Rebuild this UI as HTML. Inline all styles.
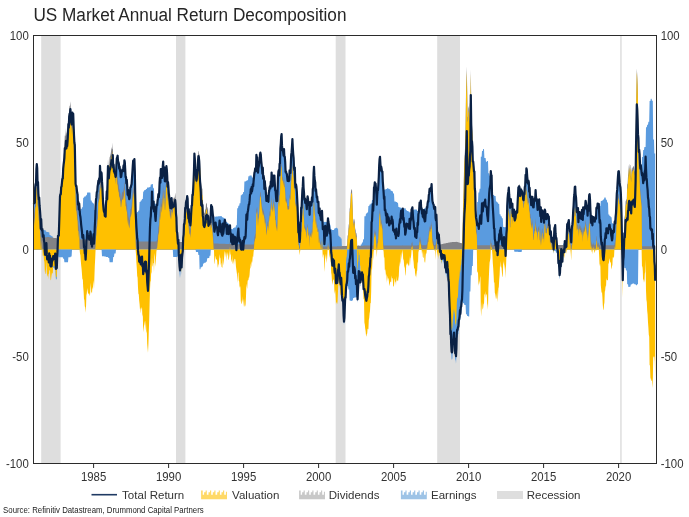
<!DOCTYPE html>
<html><head><meta charset="utf-8"><title>US Market Annual Return Decomposition</title>
<style>
html,body{margin:0;padding:0;background:#fff;}
body{width:689px;height:517px;position:relative;overflow:hidden;font-family:"Liberation Sans",Arial,sans-serif;}
text{font-family:"Liberation Sans",Arial,sans-serif;fill:#333333;}
.ax{font-size:12px;}
.ti{font-size:17.6px;fill:#262626;}
.lg{font-size:11.8px;}
.src{font-size:8.4px;fill:#222;}
</style></head><body>
<svg width="689" height="517" viewBox="0 0 689 517" style="position:absolute;left:0;top:0;will-change:transform"><rect width="689" height="517" fill="#fff"/><rect x="41.2" y="35.5" width="19.4" height="428.0" fill="#DEDEDE"/><rect x="176.0" y="35.5" width="9.4" height="428.0" fill="#DEDEDE"/><rect x="335.7" y="35.5" width="9.8" height="428.0" fill="#DEDEDE"/><rect x="437.2" y="35.5" width="22.8" height="428.0" fill="#DEDEDE"/><rect x="620.2" y="35.5" width="1.5" height="428.0" fill="#DEDEDE"/><path d="M34.0 249.5L34.0 204.3L34.4 194.6L34.8 202.6L35.2 187.3L35.6 184.0L36.0 184.3L36.4 169.3L36.8 164.0L37.2 168.0L37.6 185.2L38.0 182.0L38.4 193.6L38.8 199.5L39.2 197.5L39.6 205.7L40.0 210.4L40.4 216.1L40.8 228.5L41.2 219.2L41.6 228.1L42.0 229.9L42.4 229.0L42.8 229.9L43.2 230.1L43.6 230.1L44.0 230.1L44.4 230.3L44.8 230.3L45.2 230.3L45.6 230.3L46.0 231.8L46.4 231.8L46.8 231.8L47.2 232.0L47.6 232.0L48.0 232.0L48.4 232.2L48.8 232.3L49.2 232.3L49.6 235.0L50.0 235.1L50.4 235.1L50.8 235.8L51.2 235.8L51.6 235.9L52.0 236.5L52.4 236.6L52.8 236.6L53.2 249.5L53.6 249.5L54.0 249.5L54.4 249.5L54.8 249.5L55.2 249.5L55.6 249.5L56.0 249.5L56.4 249.5L56.8 249.5L57.2 249.5L57.6 249.5L58.0 249.5L58.4 249.5L58.8 249.5L59.2 249.5L59.6 249.5L60.0 249.5L60.4 249.5L60.8 249.5L61.2 249.5L61.6 249.5L62.0 249.5L62.4 249.5L62.8 249.5L63.2 249.5L63.6 249.5L64.0 249.5L64.4 249.5L64.8 249.5L65.2 249.5L65.6 249.5L66.0 249.5L66.4 249.5L66.8 249.5L67.2 249.5L67.6 249.5L68.0 249.5L68.4 249.5L68.8 249.5L69.2 249.5L69.6 249.5L70.0 249.5L70.4 249.5L70.8 249.5L71.2 249.5L71.6 249.5L72.0 121.0L72.4 112.5L72.8 115.1L73.2 113.8L73.6 125.3L74.0 135.3L74.4 142.8L74.8 144.8L75.2 165.4L75.6 183.9L76.0 186.1L76.4 185.8L76.8 189.4L77.2 192.8L77.6 194.5L78.0 204.7L78.4 202.2L78.8 209.5L79.2 203.5L79.6 209.3L80.0 210.9L80.4 210.9L80.8 209.1L81.2 209.1L81.6 209.1L82.0 207.2L82.4 207.3L82.8 207.3L83.2 197.7L83.6 197.7L84.0 197.8L84.4 196.4L84.8 196.4L85.2 196.4L85.6 196.5L86.0 195.2L86.4 195.3L86.8 195.3L87.2 192.5L87.6 192.5L88.0 192.6L88.4 192.6L88.8 192.6L89.2 192.6L89.6 192.6L90.0 192.6L90.4 192.7L90.8 200.5L91.2 200.5L91.6 200.5L92.0 202.5L92.4 202.5L92.8 202.6L93.2 203.4L93.6 203.5L94.0 203.5L94.4 209.9L94.8 210.0L95.2 210.0L95.6 206.4L96.0 199.7L96.4 197.4L96.8 192.0L97.2 192.0L97.6 186.5L98.0 184.1L98.4 180.6L98.8 183.6L99.2 178.4L99.6 182.0L100.0 165.9L100.4 173.6L100.8 173.1L101.2 172.2L101.6 173.2L102.0 249.5L102.4 249.5L102.8 249.5L103.2 249.5L103.6 249.5L104.0 249.5L104.4 249.5L104.8 249.5L105.2 249.5L105.6 249.5L106.0 249.5L106.4 249.5L106.8 249.5L107.2 249.5L107.6 249.5L108.0 249.5L108.4 249.5L108.8 249.5L109.2 249.5L109.6 249.5L110.0 249.5L110.4 249.5L110.8 249.5L111.2 249.5L111.6 249.5L112.0 249.5L112.4 249.5L112.8 249.5L113.2 249.5L113.6 249.5L114.0 249.5L114.4 249.5L114.8 249.5L115.2 249.5L115.6 249.5L116.0 175.2L116.4 165.5L116.8 158.5L117.2 157.5L117.6 155.7L118.0 161.0L118.4 162.1L118.8 163.3L119.2 168.7L119.6 166.6L120.0 170.7L120.4 172.0L120.8 177.1L121.2 177.0L121.6 173.5L122.0 170.7L122.4 169.3L122.8 170.2L123.2 168.5L123.6 165.3L124.0 171.2L124.4 160.3L124.8 162.0L125.2 169.4L125.6 177.3L126.0 177.0L126.4 183.5L126.8 179.8L127.2 186.1L127.6 194.8L128.0 189.8L128.4 195.1L128.8 196.6L129.2 199.2L129.6 197.7L130.0 192.6L130.4 187.6L130.8 187.2L131.2 185.5L131.6 184.1L132.0 178.1L132.4 172.4L132.8 165.9L133.2 160.6L133.6 167.6L134.0 161.4L134.4 159.1L134.8 170.5L135.2 193.6L135.6 210.7L136.0 213.8L136.4 213.7L136.8 213.7L137.2 212.1L137.6 212.1L138.0 212.1L138.4 210.4L138.8 210.4L139.2 210.4L139.6 201.9L140.0 201.9L140.4 201.9L140.8 200.5L141.2 200.5L141.6 200.5L142.0 199.1L142.4 199.1L142.8 199.1L143.2 191.5L143.6 191.5L144.0 191.5L144.4 190.1L144.8 190.1L145.2 190.1L145.6 190.1L146.0 189.1L146.4 189.1L146.8 189.1L147.2 187.6L147.6 187.6L148.0 187.6L148.4 187.6L148.8 187.6L149.2 187.6L149.6 186.9L150.0 186.9L150.4 187.0L150.8 184.4L151.2 184.4L151.6 184.4L152.0 184.0L152.4 184.0L152.8 184.0L153.2 188.3L153.6 188.3L154.0 188.3L154.4 203.6L154.8 203.6L155.2 203.6L155.6 203.6L156.0 205.8L156.4 205.8L156.8 204.6L157.2 205.2L157.6 200.5L158.0 198.2L158.4 194.1L158.8 197.2L159.2 192.6L159.6 182.5L160.0 177.7L160.4 182.7L160.8 169.0L161.2 169.2L161.6 175.4L162.0 178.0L162.4 172.9L162.8 166.2L163.2 161.6L163.6 175.7L164.0 167.1L164.4 170.0L164.8 181.1L165.2 181.4L165.6 172.3L166.0 168.7L166.4 166.1L166.8 169.3L167.2 175.9L167.6 186.8L168.0 182.2L168.4 186.7L168.8 193.3L169.2 196.6L169.6 200.2L170.0 205.1L170.4 208.0L170.8 202.9L171.2 208.4L171.6 198.0L172.0 204.5L172.4 202.3L172.8 207.3L173.2 249.5L173.6 249.5L174.0 249.5L174.4 249.5L174.8 249.5L175.2 249.5L175.6 249.5L176.0 249.5L176.4 249.5L176.8 249.5L177.2 249.5L177.6 249.5L178.0 249.5L178.4 249.5L178.8 249.5L179.2 249.5L179.6 249.5L180.0 249.5L180.4 249.5L180.8 249.5L181.2 249.5L181.6 249.5L182.0 249.5L182.4 249.5L182.8 249.5L183.2 237.8L183.6 234.6L184.0 224.0L184.4 223.9L184.8 218.9L185.2 207.9L185.6 208.7L186.0 202.4L186.4 200.6L186.8 199.9L187.2 196.1L187.6 198.6L188.0 211.9L188.4 218.4L188.8 209.2L189.2 220.9L189.6 222.5L190.0 219.9L190.4 225.5L190.8 221.0L191.2 212.0L191.6 205.8L192.0 205.3L192.4 194.9L192.8 195.2L193.2 188.8L193.6 180.3L194.0 170.1L194.4 153.5L194.8 158.5L195.2 168.8L195.6 169.7L196.0 249.5L196.4 249.5L196.8 249.5L197.2 249.5L197.6 249.5L198.0 249.5L198.4 249.5L198.8 249.5L199.2 249.5L199.6 249.5L200.0 249.5L200.4 249.5L200.8 249.5L201.2 249.5L201.6 249.5L202.0 249.5L202.4 249.5L202.8 249.5L203.2 249.5L203.6 249.5L204.0 249.5L204.4 249.5L204.8 249.5L205.2 249.5L205.6 249.5L206.0 249.5L206.4 249.5L206.8 249.5L207.2 249.5L207.6 249.5L208.0 249.5L208.4 249.5L208.8 249.5L209.2 249.5L209.6 249.5L210.0 249.5L210.4 249.5L210.8 212.9L211.2 205.1L211.6 208.4L212.0 206.5L212.4 210.2L212.8 214.3L213.2 217.5L213.6 224.0L214.0 225.0L214.4 216.6L214.8 216.6L215.2 216.7L215.6 216.7L216.0 216.6L216.4 216.6L216.8 216.6L217.2 216.6L217.6 216.6L218.0 216.6L218.4 216.2L218.8 216.2L219.2 216.2L219.6 216.2L220.0 216.2L220.4 216.2L220.8 216.1L221.2 216.1L221.6 216.1L222.0 217.2L222.4 217.2L222.8 217.3L223.2 217.8L223.6 217.8L224.0 217.8L224.4 218.4L224.8 218.4L225.2 218.4L225.6 218.4L226.0 222.1L226.4 222.1L226.8 222.1L227.2 222.8L227.6 222.8L228.0 222.8L228.4 223.7L228.8 223.7L229.2 223.7L229.6 228.2L230.0 225.3L230.4 228.3L230.8 229.0L231.2 229.0L231.6 229.0L232.0 229.3L232.4 229.3L232.8 229.3L233.2 228.0L233.6 228.0L234.0 228.0L234.4 227.6L234.8 227.6L235.2 227.6L235.6 227.6L236.0 225.3L236.4 225.3L236.8 225.3L237.2 208.2L237.6 208.3L238.0 208.3L238.4 205.7L238.8 205.8L239.2 205.8L239.6 203.2L240.0 203.3L240.4 203.3L240.8 195.3L241.2 195.3L241.6 195.3L242.0 194.3L242.4 194.3L242.8 194.3L243.2 192.1L243.6 192.1L244.0 192.1L244.4 181.5L244.8 181.5L245.2 181.5L245.6 181.5L246.0 180.7L246.4 180.7L246.8 180.7L247.2 180.3L247.6 180.3L248.0 180.3L248.4 176.3L248.8 176.3L249.2 176.4L249.6 175.5L250.0 175.5L250.4 175.5L250.8 175.4L251.2 175.4L251.6 175.4L252.0 177.5L252.4 177.5L252.8 177.5L253.2 178.5L253.6 178.6L254.0 176.9L254.4 172.8L254.8 171.6L255.2 168.4L255.6 170.4L256.0 171.0L256.4 154.8L256.8 157.9L257.2 157.3L257.6 165.7L258.0 172.6L258.4 167.9L258.8 166.3L259.2 162.1L259.6 162.5L260.0 154.5L260.4 152.6L260.8 154.7L261.2 160.5L261.6 164.3L262.0 168.4L262.4 173.6L262.8 167.7L263.2 178.7L263.6 175.9L264.0 178.4L264.4 189.0L264.8 181.1L265.2 186.5L265.6 188.0L266.0 194.2L266.4 201.0L266.8 198.6L267.2 199.1L267.6 196.2L268.0 195.7L268.4 201.8L268.8 192.9L269.2 191.1L269.6 187.5L270.0 186.2L270.4 188.5L270.8 181.5L271.2 184.3L271.6 172.6L272.0 183.2L272.4 186.5L272.8 182.5L273.2 175.7L273.6 179.2L274.0 185.3L274.4 175.5L274.8 183.2L275.2 190.4L275.6 190.5L276.0 196.8L276.4 201.2L276.8 195.3L277.2 200.9L277.6 190.9L278.0 177.1L278.4 171.6L278.8 170.1L279.2 175.4L279.6 163.9L280.0 163.2L280.4 148.4L280.8 143.8L281.2 136.5L281.6 134.2L282.0 145.4L282.4 150.5L282.8 149.1L283.2 152.6L283.6 155.5L284.0 149.0L284.4 156.6L284.8 156.8L285.2 162.2L285.6 171.9L286.0 171.3L286.4 173.2L286.8 173.8L287.2 177.2L287.6 180.9L288.0 180.3L288.4 180.8L288.8 181.1L289.2 180.1L289.6 170.4L290.0 171.8L290.4 173.0L290.8 164.4L291.2 155.0L291.6 152.2L292.0 146.4L292.4 139.0L292.8 147.6L293.2 154.0L293.6 157.9L294.0 167.5L294.4 170.3L294.8 167.6L295.2 183.6L295.6 187.4L296.0 184.4L296.4 186.8L296.8 191.3L297.2 199.0L297.6 206.8L298.0 219.8L298.4 232.4L298.8 232.4L299.2 235.7L299.6 236.3L300.0 236.3L300.4 222.3L300.8 221.5L301.2 207.5L301.6 207.9L302.0 198.4L302.4 190.0L302.8 186.4L303.2 177.4L303.6 188.1L304.0 192.7L304.4 199.8L304.8 198.4L305.2 203.0L305.6 200.3L306.0 199.9L306.4 204.7L306.8 209.1L307.2 200.8L307.6 196.4L308.0 198.8L308.4 204.8L308.8 203.5L309.2 202.4L309.6 214.8L310.0 202.0L310.4 204.1L310.8 204.4L311.2 205.5L311.6 202.2L312.0 197.4L312.4 201.6L312.8 189.1L313.2 187.1L313.6 173.2L314.0 166.8L314.4 175.9L314.8 180.6L315.2 182.2L315.6 190.9L316.0 189.2L316.4 193.6L316.8 197.6L317.2 196.5L317.6 202.1L318.0 201.6L318.4 201.9L318.8 212.9L319.2 213.5L319.6 208.3L320.0 215.7L320.4 214.2L320.8 219.1L321.2 220.2L321.6 217.8L322.0 210.8L322.4 219.5L322.8 220.5L323.2 221.8L323.6 221.8L324.0 221.8L324.4 221.9L324.8 221.9L325.2 221.9L325.6 221.8L326.0 221.9L326.4 221.9L326.8 221.9L327.2 223.2L327.6 223.2L328.0 218.3L328.4 222.1L328.8 223.8L329.2 223.8L329.6 224.8L330.0 224.8L330.4 224.8L330.8 229.3L331.2 229.3L331.6 229.3L332.0 230.0L332.4 229.9L332.8 229.9L333.2 230.1L333.6 230.1L334.0 230.1L334.4 228.4L334.8 228.4L335.2 228.3L335.6 228.3L336.0 227.8L336.4 227.8L336.8 227.8L337.2 228.6L337.6 228.6L338.0 228.5L338.4 235.8L338.8 235.8L339.2 235.7L339.6 237.1L340.0 237.1L340.4 237.0L340.8 238.4L341.2 238.4L341.6 238.4L342.0 249.5L342.4 249.5L342.8 249.5L343.2 249.5L343.6 249.5L344.0 249.5L344.4 249.5L344.8 249.5L345.2 249.5L345.6 249.5L346.0 249.5L346.4 249.5L346.8 249.5L347.2 249.5L347.6 249.5L348.0 249.5L348.4 249.5L348.8 249.5L349.2 249.5L349.6 249.5L350.0 249.5L350.4 249.5L350.8 249.5L351.2 249.5L351.6 249.5L352.0 249.5L352.4 249.5L352.8 249.5L353.2 249.5L353.6 249.5L354.0 249.5L354.4 249.5L354.8 249.5L355.2 249.5L355.6 249.5L356.0 249.5L356.4 249.5L356.8 249.5L357.2 249.5L357.6 249.5L358.0 249.5L358.4 249.5L358.8 249.5L359.2 249.5L359.6 249.5L360.0 249.5L360.4 249.5L360.8 244.4L361.2 244.4L361.6 244.4L362.0 242.4L362.4 242.4L362.8 242.4L363.2 239.3L363.6 239.3L364.0 239.3L364.4 216.2L364.8 216.2L365.2 216.2L365.6 216.2L366.0 213.6L366.4 213.6L366.8 213.6L367.2 212.5L367.6 212.5L368.0 212.5L368.4 205.9L368.8 205.9L369.2 205.9L369.6 204.6L370.0 204.6L370.4 204.6L370.8 203.5L371.2 203.5L371.6 203.5L372.0 200.0L372.4 200.0L372.8 200.0L373.2 199.6L373.6 199.6L374.0 187.6L374.4 186.8L374.8 182.3L375.2 186.5L375.6 183.5L376.0 188.9L376.4 194.3L376.8 196.9L377.2 195.2L377.6 190.1L378.0 190.1L378.4 184.0L378.8 176.9L379.2 165.4L379.6 158.9L380.0 156.8L380.4 163.6L380.8 170.5L381.2 166.6L381.6 168.8L382.0 171.8L382.4 171.6L382.8 181.5L383.2 186.8L383.6 190.1L384.0 190.1L384.4 189.6L384.8 189.6L385.2 189.6L385.6 189.6L386.0 189.1L386.4 189.1L386.8 189.1L387.2 188.3L387.6 188.3L388.0 188.3L388.4 188.8L388.8 188.8L389.2 188.8L389.6 189.2L390.0 189.2L390.4 189.2L390.8 190.8L391.2 190.8L391.6 190.8L392.0 191.2L392.4 191.2L392.8 191.2L393.2 193.6L393.6 193.6L394.0 193.6L394.4 201.4L394.8 201.4L395.2 201.4L395.6 201.4L396.0 202.0L396.4 202.0L396.8 202.0L397.2 202.8L397.6 202.8L398.0 202.8L398.4 206.9L398.8 206.9L399.2 206.9L399.6 207.5L400.0 207.5L400.4 207.5L400.8 207.8L401.2 207.8L401.6 207.8L402.0 208.8L402.4 208.8L402.8 208.6L403.2 208.7L403.6 208.7L404.0 208.7L404.4 208.3L404.8 208.3L405.2 208.3L405.6 208.3L406.0 210.2L406.4 210.2L406.8 210.2L407.2 211.0L407.6 211.0L408.0 211.0L408.4 211.5L408.8 211.5L409.2 211.5L409.6 212.4L410.0 212.4L410.4 212.4L410.8 212.0L411.2 212.0L411.6 209.2L412.0 209.0L412.4 207.3L412.8 211.5L413.2 209.8L413.6 209.8L414.0 209.7L414.4 209.5L414.8 209.5L415.2 209.5L415.6 209.5L416.0 209.4L416.4 209.4L416.8 209.4L417.2 211.0L417.6 211.0L418.0 211.0L418.4 211.4L418.8 211.4L419.2 209.3L419.6 202.5L420.0 204.5L420.4 207.1L420.8 200.6L421.2 209.0L421.6 208.2L422.0 209.3L422.4 209.3L422.8 209.3L423.2 209.1L423.6 209.1L424.0 209.1L424.4 208.2L424.8 208.2L425.2 208.2L425.6 208.2L426.0 208.3L426.4 208.3L426.8 207.1L427.2 207.8L427.6 203.4L428.0 201.2L428.4 201.4L428.8 195.2L429.2 193.2L429.6 188.9L430.0 191.0L430.4 190.5L430.8 187.8L431.2 188.3L431.6 184.2L432.0 193.8L432.4 200.6L432.8 202.6L433.2 204.0L433.6 204.6L434.0 207.9L434.4 207.5L434.8 207.5L435.2 206.9L435.6 207.4L436.0 220.2L436.4 214.7L436.8 224.7L437.2 230.5L437.6 230.5L438.0 230.5L438.4 233.6L438.8 233.6L439.2 233.5L439.6 249.5L440.0 249.5L440.4 249.5L440.8 249.5L441.2 249.5L441.6 249.5L442.0 249.5L442.4 249.5L442.8 249.5L443.2 249.5L443.6 249.5L444.0 249.5L444.4 249.5L444.8 249.5L445.2 249.5L445.6 249.5L446.0 249.5L446.4 249.5L446.8 249.5L447.2 249.5L447.6 249.5L448.0 249.5L448.4 249.5L448.8 249.5L449.2 249.5L449.6 249.5L450.0 249.5L450.4 249.5L450.8 249.5L451.2 249.5L451.6 249.5L452.0 249.5L452.4 249.5L452.8 249.5L453.2 249.5L453.6 249.5L454.0 249.5L454.4 249.5L454.8 249.5L455.2 249.5L455.6 249.5L456.0 249.5L456.4 249.5L456.8 249.5L457.2 249.5L457.6 249.5L458.0 249.5L458.4 249.5L458.8 249.5L459.2 249.5L459.6 249.5L460.0 249.5L460.4 249.5L460.8 249.5L461.2 249.5L461.6 249.5L462.0 249.5L462.4 249.5L462.8 249.5L463.2 249.5L463.6 249.5L464.0 249.5L464.4 249.5L464.8 249.5L465.2 249.5L465.6 249.5L466.0 249.5L466.4 249.5L466.8 249.5L467.2 249.5L467.6 249.5L468.0 249.5L468.4 249.5L468.8 249.5L469.2 249.5L469.6 249.5L470.0 249.5L470.4 249.5L470.8 249.5L471.2 249.5L471.6 249.5L472.0 249.5L472.4 249.5L472.8 249.5L473.2 161.7L473.6 166.3L474.0 171.7L474.4 171.6L474.8 188.5L475.2 191.6L475.6 210.3L476.0 217.4L476.4 219.3L476.8 221.4L477.2 201.9L477.6 201.9L478.0 201.9L478.4 192.4L478.8 192.4L479.2 192.4L479.6 188.8L480.0 188.8L480.4 188.8L480.8 156.7L481.2 156.7L481.6 156.7L482.0 150.9L482.4 150.9L482.8 150.9L483.2 149.0L483.6 149.0L484.0 149.0L484.4 157.9L484.8 157.9L485.2 157.9L485.6 157.9L486.0 161.8L486.4 161.8L486.8 161.8L487.2 160.9L487.6 160.9L488.0 160.9L488.4 173.3L488.8 173.3L489.2 173.3L489.6 175.8L490.0 175.8L490.4 175.8L490.8 171.2L491.2 175.5L491.6 175.3L492.0 193.5L492.4 193.5L492.8 193.5L493.2 194.9L493.6 194.9L494.0 194.9L494.4 196.0L494.8 196.0L495.2 196.0L495.6 196.0L496.0 201.4L496.4 201.4L496.8 201.4L497.2 202.4L497.6 202.4L498.0 202.4L498.4 204.0L498.8 204.0L499.2 204.0L499.6 214.3L500.0 214.3L500.4 214.3L500.8 216.3L501.2 216.3L501.6 216.3L502.0 218.3L502.4 218.3L502.8 218.3L503.2 227.0L503.6 227.0L504.0 227.0L504.4 227.2L504.8 227.2L505.2 227.2L505.6 227.2L506.0 227.1L506.4 227.1L506.8 227.1L507.2 206.0L507.6 198.3L508.0 193.9L508.4 191.4L508.8 187.5L509.2 194.7L509.6 199.5L510.0 207.8L510.4 207.2L510.8 199.2L511.2 204.2L511.6 204.1L512.0 205.5L512.4 203.7L512.8 216.2L513.2 210.7L513.6 210.2L514.0 209.7L514.4 249.5L514.8 249.5L515.2 249.5L515.6 249.5L516.0 249.5L516.4 249.5L516.8 249.5L517.2 249.5L517.6 249.5L518.0 249.5L518.4 249.5L518.8 249.5L519.2 249.5L519.6 249.5L520.0 249.5L520.4 249.5L520.8 249.5L521.2 249.5L521.6 249.5L522.0 191.1L522.4 193.6L522.8 194.2L523.2 199.4L523.6 200.1L524.0 193.3L524.4 194.3L524.8 187.0L525.2 185.8L525.6 174.8L526.0 182.5L526.4 168.3L526.8 169.8L527.2 176.6L527.6 180.6L528.0 183.6L528.4 180.6L528.8 182.0L529.2 191.7L529.6 187.8L530.0 197.3L530.4 196.0L530.8 199.4L531.2 205.2L531.6 200.3L532.0 203.9L532.4 196.9L532.8 202.9L533.2 207.4L533.6 207.3L534.0 201.7L534.4 201.0L534.8 198.4L535.2 198.9L535.6 190.1L536.0 196.7L536.4 201.0L536.8 199.1L537.2 204.3L537.6 210.0L538.0 201.3L538.4 201.8L538.8 200.3L539.2 199.3L539.6 209.3L540.0 210.7L540.4 216.1L540.8 207.3L541.2 222.0L541.6 214.6L542.0 211.5L542.4 210.5L542.8 217.1L543.2 218.3L543.6 215.3L544.0 222.7L544.4 214.9L544.8 209.5L545.2 210.8L545.6 218.2L546.0 218.7L546.4 219.2L546.8 218.6L547.2 214.0L547.6 214.2L548.0 215.0L548.4 217.1L548.8 216.6L549.2 225.4L549.6 225.0L550.0 234.3L550.4 234.7L550.8 231.3L551.2 236.9L551.6 241.5L552.0 249.5L552.4 249.5L552.8 249.5L553.2 249.5L553.6 249.5L554.0 249.5L554.4 249.5L554.8 249.5L555.2 249.5L555.6 249.5L556.0 249.5L556.4 249.5L556.8 249.5L557.2 249.5L557.6 249.5L558.0 249.5L558.4 249.5L558.8 249.5L559.2 249.5L559.6 249.5L560.0 249.5L560.4 249.5L560.8 249.5L561.2 249.5L561.6 249.5L562.0 249.5L562.4 249.5L562.8 249.5L563.2 243.5L563.6 243.5L564.0 243.5L564.4 243.0L564.8 241.1L565.2 243.0L565.6 243.0L566.0 241.4L566.4 242.4L566.8 234.7L567.2 224.2L567.6 228.1L568.0 222.9L568.4 222.0L568.8 220.1L569.2 225.8L569.6 230.4L570.0 231.6L570.4 230.4L570.8 231.0L571.2 231.0L571.6 231.0L572.0 226.4L572.4 224.4L572.8 220.2L573.2 210.8L573.6 205.6L574.0 197.4L574.4 194.2L574.8 187.0L575.2 186.6L575.6 194.3L576.0 197.1L576.4 204.0L576.8 212.0L577.2 211.7L577.6 212.8L578.0 208.2L578.4 222.2L578.8 214.9L579.2 214.6L579.6 212.1L580.0 218.0L580.4 213.8L580.8 213.2L581.2 218.8L581.6 215.2L582.0 209.8L582.4 212.8L582.8 219.9L583.2 207.3L583.6 214.1L584.0 208.6L584.4 209.5L584.8 207.6L585.2 206.1L585.6 200.8L586.0 202.7L586.4 206.3L586.8 208.9L587.2 209.8L587.6 215.7L588.0 205.6L588.4 211.0L588.8 201.7L589.2 195.0L589.6 194.2L590.0 199.4L590.4 210.3L590.8 216.9L591.2 220.0L591.6 215.8L592.0 219.0L592.4 220.6L592.8 219.4L593.2 217.0L593.6 220.2L594.0 217.8L594.4 218.4L594.8 218.4L595.2 218.4L595.6 216.7L596.0 216.7L596.4 208.1L596.8 207.4L597.2 207.9L597.6 203.6L598.0 207.9L598.4 204.6L598.8 203.9L599.2 206.8L599.6 205.9L600.0 205.9L600.4 205.9L600.8 201.0L601.2 201.0L601.6 201.0L602.0 200.4L602.4 200.4L602.8 200.4L603.2 199.5L603.6 199.5L604.0 199.5L604.4 197.4L604.8 197.4L605.2 197.4L605.6 197.4L606.0 199.8L606.4 199.8L606.8 199.8L607.2 202.4L607.6 202.4L608.0 202.4L608.4 214.4L608.8 214.4L609.2 214.4L609.6 216.1L610.0 216.1L610.4 216.1L610.8 217.3L611.2 217.3L611.6 217.3L612.0 223.3L612.4 223.3L612.8 223.3L613.2 224.1L613.6 224.1L614.0 224.1L614.4 224.4L614.8 221.4L615.2 223.5L615.6 216.9L616.0 213.0L616.4 203.3L616.8 193.7L617.2 189.9L617.6 182.7L618.0 176.3L618.4 171.4L618.8 171.2L619.2 176.7L619.6 182.2L620.0 185.8L620.4 187.3L620.8 192.5L621.2 202.7L621.6 218.9L622.0 232.1L622.4 232.0L622.8 232.0L623.2 249.5L623.6 249.5L624.0 249.5L624.4 249.5L624.8 249.5L625.2 249.5L625.6 249.5L626.0 249.5L626.4 249.5L626.8 249.5L627.2 249.5L627.6 249.5L628.0 249.5L628.4 249.5L628.8 249.5L629.2 249.5L629.6 249.5L630.0 249.5L630.4 249.5L630.8 249.5L631.2 249.5L631.6 249.5L632.0 249.5L632.4 249.5L632.8 249.5L633.2 249.5L633.6 249.5L634.0 249.5L634.4 249.5L634.8 249.5L635.2 249.5L635.6 249.5L636.0 249.5L636.4 249.5L636.8 249.5L637.2 249.5L637.6 249.5L638.0 249.5L638.4 137.9L638.8 152.0L639.2 149.8L639.6 154.0L640.0 163.8L640.4 168.7L640.8 165.2L641.2 168.7L641.6 172.5L642.0 157.0L642.4 157.0L642.8 157.0L643.2 149.9L643.6 149.9L644.0 149.9L644.4 147.1L644.8 147.1L645.2 147.1L645.6 147.1L646.0 127.2L646.4 127.2L646.8 127.2L647.2 124.8L647.6 124.8L648.0 124.8L648.4 121.7L648.8 121.7L649.2 121.7L649.6 100.9L650.0 100.9L650.4 100.9L650.8 98.8L651.2 98.8L651.6 98.8L652.0 100.8L652.4 100.8L652.8 100.8L653.2 139.6L653.6 139.6L654.0 139.6L654.4 153.5L654.8 153.5L655.2 153.5L655.2 249.5Z" fill="#5A9BDF"/><path d="M34.0 249.5L34.0 215.0L34.4 205.3L34.8 213.3L35.2 198.0L35.6 194.7L36.0 195.0L36.4 180.0L36.8 174.7L37.2 178.6L37.6 195.8L38.0 192.6L38.4 203.0L38.8 208.9L39.2 206.9L39.6 214.9L40.0 219.6L40.4 225.2L40.8 237.4L41.2 228.1L41.6 237.0L42.0 237.4L42.4 236.4L42.8 237.3L43.2 237.3L43.6 237.3L44.0 237.3L44.4 237.3L44.8 237.3L45.2 237.2L45.6 237.2L46.0 237.2L46.4 237.2L46.8 237.2L47.2 237.1L47.6 237.1L48.0 237.1L48.4 237.1L48.8 237.1L49.2 237.2L49.6 237.2L50.0 237.3L50.4 237.3L50.8 237.4L51.2 237.5L51.6 237.5L52.0 237.6L52.4 237.6L52.8 237.7L53.2 237.7L53.6 237.8L54.0 237.9L54.4 237.9L54.8 238.0L55.2 238.0L55.6 238.1L56.0 238.1L56.4 238.2L56.8 238.3L57.2 238.3L57.6 238.4L58.0 230.2L58.4 227.9L58.8 227.9L59.2 214.9L59.6 201.4L60.0 188.6L60.4 186.6L60.8 186.5L61.2 179.5L61.6 178.8L62.0 174.3L62.4 171.2L62.8 170.8L63.2 159.4L63.6 155.5L64.0 152.3L64.4 144.9L64.8 135.3L65.2 136.4L65.6 134.1L66.0 127.9L66.4 135.5L66.8 132.2L67.2 133.2L67.6 128.1L68.0 119.9L68.4 116.3L68.8 120.0L69.2 108.7L69.6 106.0L70.0 105.5L70.4 101.3L70.8 107.7L71.2 115.3L71.6 117.5L72.0 124.5L72.4 116.0L72.8 118.6L73.2 118.8L73.6 130.3L74.0 140.3L74.4 149.2L74.8 151.2L75.2 171.7L75.6 190.3L76.0 200.4L76.4 200.2L76.8 203.8L77.2 209.0L77.6 210.7L78.0 220.9L78.4 220.3L78.8 227.6L79.2 221.6L79.6 237.7L80.0 239.3L80.4 239.3L80.8 239.3L81.2 239.3L81.6 239.4L82.0 239.4L82.4 239.4L82.8 239.4L83.2 239.4L83.6 239.4L84.0 239.5L84.4 239.5L84.8 239.5L85.2 239.5L85.6 239.5L86.0 239.5L86.4 239.6L86.8 239.6L87.2 239.6L87.6 239.6L88.0 239.6L88.4 239.6L88.8 239.7L89.2 239.7L89.6 239.7L90.0 239.7L90.4 239.7L90.8 239.8L91.2 239.8L91.6 239.8L92.0 239.8L92.4 239.8L92.8 239.8L93.2 239.9L93.6 239.9L94.0 239.9L94.4 239.9L94.8 240.0L95.2 240.0L95.6 236.4L96.0 227.4L96.4 225.1L96.8 219.6L97.2 216.7L97.6 211.2L98.0 208.8L98.4 191.4L98.8 194.5L99.2 189.2L99.6 190.6L100.0 174.6L100.4 182.3L100.8 179.3L101.2 178.4L101.6 179.3L102.0 174.7L102.4 180.3L102.8 190.1L103.2 198.2L103.6 202.7L104.0 205.0L104.4 203.5L104.8 209.0L105.2 204.8L105.6 209.7L106.0 195.7L106.4 192.4L106.8 183.9L107.2 191.7L107.6 172.5L108.0 158.4L108.4 165.5L108.8 169.8L109.2 164.4L109.6 157.4L110.0 156.6L110.4 154.9L110.8 153.2L111.2 149.9L111.6 147.1L112.0 149.6L112.4 148.7L112.8 142.4L113.2 160.1L113.6 157.0L114.0 164.2L114.4 167.7L114.8 169.5L115.2 169.3L115.6 173.1L116.0 176.7L116.4 167.0L116.8 160.0L117.2 177.8L117.6 176.0L118.0 181.3L118.4 183.7L118.8 184.9L119.2 190.3L119.6 188.3L120.0 192.4L120.4 193.7L120.8 199.4L121.2 199.4L121.6 195.8L122.0 193.0L122.4 191.6L122.8 192.5L123.2 190.7L123.6 187.5L124.0 193.4L124.4 181.8L124.8 183.5L125.2 190.9L125.6 198.9L126.0 198.4L126.4 204.9L126.8 201.2L127.2 207.5L127.6 216.2L128.0 211.2L128.4 216.5L128.8 218.0L129.2 220.6L129.6 219.1L130.0 214.0L130.4 209.0L130.8 208.9L131.2 207.2L131.6 205.8L132.0 201.2L132.4 195.6L132.8 189.0L133.2 184.0L133.6 191.0L134.0 184.8L134.4 182.8L134.8 194.2L135.2 217.4L135.6 234.4L136.0 241.5L136.4 241.5L136.8 241.4L137.2 241.4L137.6 241.4L138.0 241.4L138.4 241.4L138.8 241.4L139.2 241.4L139.6 241.4L140.0 241.4L140.4 241.4L140.8 241.4L141.2 241.4L141.6 241.4L142.0 241.4L142.4 241.4L142.8 241.4L143.2 241.4L143.6 241.4L144.0 241.4L144.4 241.5L144.8 241.5L145.2 241.5L145.6 241.5L146.0 241.5L146.4 241.5L146.8 241.5L147.2 241.5L147.6 241.5L148.0 241.5L148.4 241.5L148.8 241.5L149.2 241.5L149.6 241.5L150.0 241.5L150.4 241.5L150.8 241.5L151.2 241.5L151.6 241.6L152.0 241.6L152.4 241.6L152.8 241.6L153.2 241.6L153.6 241.6L154.0 241.6L154.4 241.6L154.8 241.6L155.2 241.6L155.6 241.6L156.0 241.6L156.4 241.6L156.8 240.5L157.2 239.9L157.6 235.2L158.0 232.9L158.4 224.5L158.8 227.6L159.2 223.0L159.6 212.5L160.0 207.6L160.4 212.6L160.8 198.7L161.2 198.9L161.6 205.1L162.0 202.9L162.4 197.9L162.8 191.1L163.2 184.3L163.6 198.3L164.0 189.8L164.4 190.8L164.8 201.9L165.2 202.2L165.6 193.0L166.0 178.1L166.4 175.4L166.8 178.6L167.2 182.8L167.6 193.7L168.0 189.1L168.4 193.0L168.8 199.6L169.2 203.0L169.6 204.1L170.0 209.0L170.4 211.9L170.8 206.5L171.2 212.0L171.6 201.6L172.0 205.7L172.4 203.5L172.8 208.5L173.2 197.1L173.6 199.1L174.0 198.2L174.4 197.8L174.8 197.2L175.2 192.5L175.6 196.6L176.0 206.6L176.4 210.1L176.8 223.9L177.2 225.8L177.6 232.4L178.0 237.0L178.4 232.9L178.8 241.9L179.2 241.9L179.6 242.0L180.0 242.0L180.4 242.0L180.8 242.0L181.2 242.0L181.6 242.0L182.0 242.0L182.4 242.0L182.8 242.0L183.2 238.3L183.6 235.0L184.0 224.5L184.4 228.0L184.8 223.0L185.2 212.0L185.6 212.9L186.0 206.8L186.4 205.0L186.8 204.3L187.2 200.8L187.6 203.3L188.0 216.6L188.4 223.7L188.8 214.6L189.2 226.2L189.6 227.9L190.0 225.2L190.4 230.8L190.8 226.4L191.2 217.3L191.6 211.1L192.0 209.6L192.4 199.2L192.8 199.5L193.2 192.7L193.6 184.1L194.0 174.0L194.4 156.5L194.8 161.5L195.2 171.8L195.6 172.7L196.0 172.7L196.4 178.1L196.8 176.1L197.2 168.8L197.6 165.8L198.0 158.7L198.4 150.8L198.8 151.6L199.2 155.3L199.6 153.9L200.0 160.7L200.4 166.7L200.8 174.4L201.2 187.4L201.6 182.6L202.0 189.2L202.4 188.1L202.8 198.9L203.2 203.9L203.6 211.4L204.0 212.1L204.4 213.7L204.8 212.5L205.2 209.3L205.6 209.4L206.0 203.6L206.4 203.8L206.8 202.5L207.2 210.1L207.6 207.2L208.0 207.2L208.4 217.3L208.8 213.0L209.2 216.3L209.6 217.7L210.0 215.1L210.4 216.2L210.8 225.6L211.2 217.8L211.6 221.1L212.0 222.4L212.4 226.1L212.8 230.2L213.2 236.0L213.6 242.5L214.0 243.5L214.4 243.5L214.8 243.5L215.2 243.6L215.6 243.6L216.0 243.6L216.4 243.6L216.8 243.6L217.2 243.6L217.6 243.6L218.0 243.6L218.4 243.6L218.8 243.7L219.2 243.7L219.6 243.7L220.0 243.7L220.4 243.7L220.8 243.7L221.2 243.7L221.6 243.7L222.0 243.7L222.4 243.8L222.8 243.8L223.2 243.8L223.6 243.8L224.0 243.8L224.4 243.8L224.8 243.8L225.2 243.8L225.6 243.9L226.0 243.9L226.4 243.9L226.8 243.9L227.2 243.9L227.6 243.9L228.0 243.9L228.4 243.9L228.8 243.9L229.2 244.0L229.6 244.0L230.0 241.0L230.4 244.0L230.8 244.0L231.2 244.0L231.6 244.0L232.0 244.0L232.4 244.0L232.8 244.1L233.2 244.1L233.6 244.1L234.0 244.1L234.4 244.1L234.8 244.1L235.2 244.1L235.6 244.1L236.0 244.1L236.4 244.2L236.8 244.2L237.2 244.2L237.6 244.2L238.0 244.2L238.4 244.2L238.8 244.2L239.2 244.2L239.6 244.2L240.0 244.3L240.4 244.3L240.8 244.3L241.2 244.3L241.6 244.3L242.0 244.3L242.4 244.3L242.8 244.3L243.2 244.4L243.6 244.4L244.0 244.4L244.4 244.4L244.8 244.4L245.2 244.4L245.6 244.4L246.0 244.4L246.4 244.4L246.8 244.5L247.2 244.5L247.6 244.5L248.0 244.5L248.4 244.5L248.8 244.5L249.2 244.5L249.6 244.5L250.0 244.5L250.4 244.6L250.8 244.6L251.2 244.6L251.6 244.6L252.0 244.6L252.4 244.6L252.8 244.6L253.2 244.6L253.6 244.6L254.0 243.0L254.4 237.3L254.8 236.1L255.2 232.9L255.6 234.8L256.0 223.0L256.4 206.7L256.8 209.9L257.2 206.4L257.6 214.8L258.0 221.7L258.4 214.7L258.8 213.2L259.2 209.0L259.6 201.3L260.0 193.2L260.4 191.4L260.8 192.8L261.2 198.5L261.6 202.3L262.0 206.1L262.4 211.2L262.8 205.4L263.2 211.9L263.6 209.0L264.0 211.6L264.4 220.5L264.8 212.6L265.2 218.0L265.6 219.6L266.0 224.2L266.4 231.0L266.8 228.6L267.2 224.7L267.6 221.8L268.0 221.3L268.4 226.9L268.8 218.0L269.2 216.2L269.6 212.0L270.0 210.7L270.4 213.0L270.8 203.6L271.2 206.4L271.6 194.7L272.0 204.9L272.4 208.3L272.8 204.3L273.2 198.0L273.6 201.6L274.0 207.6L274.4 201.2L274.8 208.9L275.2 216.1L275.6 216.2L276.0 223.1L276.4 227.6L276.8 221.6L277.2 227.9L277.6 217.8L278.0 204.0L278.4 199.5L278.8 197.9L279.2 203.2L279.6 191.8L280.0 191.0L280.4 176.2L280.8 171.6L281.2 164.4L281.6 162.1L282.0 172.7L282.4 177.8L282.8 176.4L283.2 179.6L283.6 182.5L284.0 176.1L284.4 183.4L284.8 183.7L285.2 189.1L285.6 198.8L286.0 197.0L286.4 198.9L286.8 199.4L287.2 202.7L287.6 206.3L288.0 205.8L288.4 206.0L288.8 206.3L289.2 205.3L289.6 194.2L290.0 195.7L290.4 196.9L290.8 188.0L291.2 178.6L291.6 175.8L292.0 169.7L292.4 162.3L292.8 170.9L293.2 171.9L293.6 175.8L294.0 185.4L294.4 187.1L294.8 184.3L295.2 200.3L295.6 204.1L296.0 199.9L296.4 202.4L296.8 206.8L297.2 208.9L297.6 216.8L298.0 229.8L298.4 241.8L298.8 241.8L299.2 245.1L299.6 246.4L300.0 246.4L300.4 232.4L300.8 242.4L301.2 228.4L301.6 228.9L302.0 221.1L302.4 212.8L302.8 209.1L303.2 201.1L303.6 211.8L304.0 216.4L304.4 226.3L304.8 224.9L305.2 229.4L305.6 226.7L306.0 226.6L306.4 231.5L306.8 235.9L307.2 227.9L307.6 223.5L308.0 225.9L308.4 233.7L308.8 232.3L309.2 231.2L309.6 244.0L310.0 231.2L310.4 233.3L310.8 233.9L311.2 235.0L311.6 231.7L312.0 228.5L312.4 232.7L312.8 220.2L313.2 218.5L313.6 204.7L314.0 198.2L314.4 207.5L314.8 212.3L315.2 213.8L315.6 222.5L316.0 217.4L316.4 221.9L316.8 225.9L317.2 223.9L317.6 229.5L318.0 228.9L318.4 228.7L318.8 239.7L319.2 240.3L319.6 235.0L320.0 242.4L320.4 240.9L320.8 245.6L321.2 246.7L321.6 244.3L322.0 237.0L322.4 245.7L322.8 246.7L323.2 246.7L323.6 246.6L324.0 246.6L324.4 246.6L324.8 246.6L325.2 246.6L325.6 246.6L326.0 246.6L326.4 246.6L326.8 246.6L327.2 246.6L327.6 246.6L328.0 241.7L328.4 244.8L328.8 246.6L329.2 246.6L329.6 246.6L330.0 246.6L330.4 246.5L330.8 246.5L331.2 246.5L331.6 246.5L332.0 246.5L332.4 246.5L332.8 246.5L333.2 246.5L333.6 246.5L334.0 246.5L334.4 246.5L334.8 246.5L335.2 246.4L335.6 246.4L336.0 246.4L336.4 246.4L336.8 246.4L337.2 246.3L337.6 246.3L338.0 246.3L338.4 246.3L338.8 246.3L339.2 246.3L339.6 246.2L340.0 246.2L340.4 246.2L340.8 246.2L341.2 246.2L341.6 246.2L342.0 246.1L342.4 246.1L342.8 246.1L343.2 246.1L343.6 246.1L344.0 246.1L344.4 246.0L344.8 246.0L345.2 246.0L345.6 246.0L346.0 246.0L346.4 246.0L346.8 245.9L347.2 243.6L347.6 235.2L348.0 235.5L348.4 229.2L348.8 223.4L349.2 226.7L349.6 209.1L350.0 207.2L350.4 201.9L350.8 193.5L351.2 188.7L351.6 190.8L352.0 188.7L352.4 200.5L352.8 211.0L353.2 224.4L353.6 219.8L354.0 218.5L354.4 219.8L354.8 222.1L355.2 230.4L355.6 227.9L356.0 236.4L356.4 232.4L356.8 233.4L357.2 245.7L357.6 245.7L358.0 245.7L358.4 245.7L358.8 245.0L359.2 245.7L359.6 245.7L360.0 245.7L360.4 245.7L360.8 245.7L361.2 245.7L361.6 245.7L362.0 245.7L362.4 245.7L362.8 245.7L363.2 245.7L363.6 245.6L364.0 245.6L364.4 245.6L364.8 245.6L365.2 245.6L365.6 245.6L366.0 245.6L366.4 245.6L366.8 245.6L367.2 245.6L367.6 245.6L368.0 245.6L368.4 245.6L368.8 245.6L369.2 245.6L369.6 245.6L370.0 245.6L370.4 245.6L370.8 245.6L371.2 245.6L371.6 245.6L372.0 245.6L372.4 245.6L372.8 245.6L373.2 245.6L373.6 245.6L374.0 233.7L374.4 233.3L374.8 228.8L375.2 232.9L375.6 229.9L376.0 237.7L376.4 243.1L376.8 245.6L377.2 244.4L377.6 239.2L378.0 239.3L378.4 233.7L378.8 226.5L379.2 215.0L379.6 210.9L380.0 208.8L380.4 215.6L380.8 223.0L381.2 219.1L381.6 221.3L382.0 224.7L382.4 224.6L382.8 234.5L383.2 242.4L383.6 245.6L384.0 245.6L384.4 245.6L384.8 245.6L385.2 245.6L385.6 245.6L386.0 245.6L386.4 245.6L386.8 245.6L387.2 245.6L387.6 245.6L388.0 245.6L388.4 245.6L388.8 245.6L389.2 245.6L389.6 245.6L390.0 245.6L390.4 245.6L390.8 245.6L391.2 245.6L391.6 245.6L392.0 245.6L392.4 245.5L392.8 245.5L393.2 245.5L393.6 245.5L394.0 245.5L394.4 245.5L394.8 245.5L395.2 245.5L395.6 245.5L396.0 245.5L396.4 245.5L396.8 245.5L397.2 245.5L397.6 245.5L398.0 245.5L398.4 245.5L398.8 245.5L399.2 245.5L399.6 245.5L400.0 245.5L400.4 245.5L400.8 245.5L401.2 245.5L401.6 245.5L402.0 245.5L402.4 245.5L402.8 245.2L403.2 245.5L403.6 245.5L404.0 245.5L404.4 245.5L404.8 245.5L405.2 245.5L405.6 245.5L406.0 245.5L406.4 245.4L406.8 245.4L407.2 245.4L407.6 245.4L408.0 245.4L408.4 245.4L408.8 245.4L409.2 245.4L409.6 245.4L410.0 245.4L410.4 245.4L410.8 245.4L411.2 245.4L411.6 242.6L412.0 242.9L412.4 241.2L412.8 245.4L413.2 245.4L413.6 245.4L414.0 245.4L414.4 245.4L414.8 245.4L415.2 245.4L415.6 245.4L416.0 245.4L416.4 245.4L416.8 245.4L417.2 245.4L417.6 245.3L418.0 245.3L418.4 245.3L418.8 245.3L419.2 243.2L419.6 236.7L420.0 238.7L420.4 241.3L420.8 236.3L421.2 244.7L421.6 243.9L422.0 245.3L422.4 245.3L422.8 245.3L423.2 245.3L423.6 245.3L424.0 245.3L424.4 245.3L424.8 245.3L425.2 245.3L425.6 245.3L426.0 245.3L426.4 245.3L426.8 244.1L427.2 244.5L427.6 240.0L428.0 237.8L428.4 237.9L428.8 231.7L429.2 229.7L429.6 225.7L430.0 227.8L430.4 227.3L430.8 224.6L431.2 225.0L431.6 221.0L432.0 230.7L432.4 237.5L432.8 239.5L433.2 241.2L433.6 241.8L434.0 245.0L434.4 245.0L434.8 245.0L435.2 244.4L435.6 245.0L436.0 240.2L436.4 234.8L436.8 244.8L437.2 244.9L437.6 244.8L438.0 244.8L438.4 244.8L438.8 244.7L439.2 244.7L439.6 244.6L440.0 244.5L440.4 244.4L440.8 244.3L441.2 244.2L441.6 244.2L442.0 244.1L442.4 244.0L442.8 243.9L443.2 243.8L443.6 243.7L444.0 243.6L444.4 243.6L444.8 243.5L445.2 243.4L445.6 243.3L446.0 243.2L446.4 243.1L446.8 243.0L447.2 243.0L447.6 242.9L448.0 242.8L448.4 242.7L448.8 242.6L449.2 242.5L449.6 242.4L450.0 242.4L450.4 242.3L450.8 242.2L451.2 242.2L451.6 242.2L452.0 242.1L452.4 242.1L452.8 242.1L453.2 242.0L453.6 242.0L454.0 242.0L454.4 242.0L454.8 241.9L455.2 241.9L455.6 241.9L456.0 241.8L456.4 241.8L456.8 241.9L457.2 242.0L457.6 242.1L458.0 242.2L458.4 242.3L458.8 242.4L459.2 242.5L459.6 242.7L460.0 242.8L460.4 242.9L460.8 243.0L461.2 243.1L461.6 243.2L462.0 243.3L462.4 237.7L462.8 218.2L463.2 198.9L463.6 189.0L464.0 170.2L464.4 158.4L464.8 152.8L465.2 144.5L465.6 124.9L466.0 91.9L466.4 80.9L466.8 66.2L467.2 90.8L467.6 117.6L468.0 116.3L468.4 105.9L468.8 108.6L469.2 102.2L469.6 124.4L470.0 114.4L470.4 108.7L470.8 69.2L471.2 97.4L471.6 115.2L472.0 125.0L472.4 130.3L472.8 145.4L473.2 166.8L473.6 171.5L474.0 176.9L474.4 178.6L474.8 195.5L475.2 198.6L475.6 217.3L476.0 227.1L476.4 229.1L476.8 231.1L477.2 245.2L477.6 245.2L478.0 245.2L478.4 245.2L478.8 245.2L479.2 245.2L479.6 245.2L480.0 245.2L480.4 245.2L480.8 245.2L481.2 245.2L481.6 245.2L482.0 245.2L482.4 245.2L482.8 245.2L483.2 245.2L483.6 245.2L484.0 245.2L484.4 245.2L484.8 245.2L485.2 245.2L485.6 245.2L486.0 245.2L486.4 245.2L486.8 245.2L487.2 245.2L487.6 245.2L488.0 245.2L488.4 245.2L488.8 245.2L489.2 245.2L489.6 245.2L490.0 245.2L490.4 245.2L490.8 238.6L491.2 242.9L491.6 242.7L492.0 245.2L492.4 245.2L492.8 245.2L493.2 245.1L493.6 245.1L494.0 245.1L494.4 245.1L494.8 245.1L495.2 245.1L495.6 245.1L496.0 245.1L496.4 245.1L496.8 245.1L497.2 245.1L497.6 245.1L498.0 245.1L498.4 245.1L498.8 245.1L499.2 245.1L499.6 245.1L500.0 245.1L500.4 245.1L500.8 245.1L501.2 245.1L501.6 245.1L502.0 245.1L502.4 245.1L502.8 245.1L503.2 245.1L503.6 245.1L504.0 245.1L504.4 245.1L504.8 245.1L505.2 245.1L505.6 245.1L506.0 245.1L506.4 245.1L506.8 245.1L507.2 223.5L507.6 215.8L508.0 211.4L508.4 208.6L508.8 204.7L509.2 211.9L509.6 215.1L510.0 223.4L510.4 222.7L510.8 204.7L511.2 209.6L511.6 209.5L512.0 209.3L512.4 207.6L512.8 220.0L513.2 213.0L513.6 212.5L514.0 212.0L514.4 215.7L514.8 218.2L515.2 217.0L515.6 215.6L516.0 209.3L516.4 211.1L516.8 210.4L517.2 210.2L517.6 200.5L518.0 193.1L518.4 185.0L518.8 185.2L519.2 183.8L519.6 185.3L520.0 193.5L520.4 193.3L520.8 189.1L521.2 187.1L521.6 190.3L522.0 193.2L522.4 195.7L522.8 196.2L523.2 202.9L523.6 203.6L524.0 196.8L524.4 200.3L524.8 193.0L525.2 191.7L525.6 180.8L526.0 199.6L526.4 185.4L526.8 187.0L527.2 194.1L527.6 198.1L528.0 201.1L528.4 197.4L528.8 198.9L529.2 208.6L529.6 205.0L530.0 214.5L530.4 213.3L530.8 218.5L531.2 224.4L531.6 219.4L532.0 225.1L532.4 218.0L532.8 224.0L533.2 235.4L533.6 235.4L534.0 229.7L534.4 228.8L534.8 226.2L535.2 226.7L535.6 217.9L536.0 224.3L536.4 228.6L536.8 226.6L537.2 230.5L537.6 236.2L538.0 227.5L538.4 227.7L538.8 226.2L539.2 225.2L539.6 234.7L540.0 236.1L540.4 241.5L540.8 226.3L541.2 241.0L541.6 233.6L542.0 229.1L542.4 228.1L542.8 234.7L543.2 234.5L543.6 231.5L544.0 238.9L544.4 225.0L544.8 219.6L545.2 221.0L545.6 228.3L546.0 228.4L546.4 229.0L546.8 228.4L547.2 223.4L547.6 223.7L548.0 224.5L548.4 222.6L548.8 222.2L549.2 230.9L549.6 229.6L550.0 238.9L550.4 239.2L550.8 234.8L551.2 240.5L551.6 245.0L552.0 237.2L552.4 238.3L552.8 242.7L553.2 241.7L553.6 245.0L554.0 237.3L554.4 226.9L554.8 225.8L555.2 223.8L555.6 232.4L556.0 235.8L556.4 234.8L556.8 240.2L557.2 245.1L557.6 245.1L558.0 245.1L558.4 245.1L558.8 245.1L559.2 245.1L559.6 245.1L560.0 245.1L560.4 245.1L560.8 245.1L561.2 245.1L561.6 245.1L562.0 245.1L562.4 245.1L562.8 245.1L563.2 245.1L563.6 245.1L564.0 245.1L564.4 245.1L564.8 243.2L565.2 245.1L565.6 245.1L566.0 244.1L566.4 245.1L566.8 237.4L567.2 231.1L567.6 235.0L568.0 229.8L568.4 229.8L568.8 227.9L569.2 233.6L569.6 239.2L570.0 240.4L570.4 239.2L570.8 245.1L571.2 245.1L571.6 245.1L572.0 241.5L572.4 239.4L572.8 235.2L573.2 226.8L573.6 221.6L574.0 213.4L574.4 211.1L574.8 203.9L575.2 203.5L575.6 211.2L576.0 212.0L576.4 218.8L576.8 226.8L577.2 224.4L577.6 225.5L578.0 221.0L578.4 232.7L578.8 225.4L579.2 225.2L579.6 223.7L580.0 229.5L580.4 225.4L580.8 225.8L581.2 231.3L581.6 227.8L582.0 227.5L582.4 230.5L582.8 237.6L583.2 225.7L583.6 232.4L584.0 226.9L584.4 228.0L584.8 226.0L585.2 224.6L585.6 219.2L586.0 223.2L586.4 226.8L586.8 229.4L587.2 231.4L587.6 237.3L588.0 227.1L588.4 234.1L588.8 224.9L589.2 218.2L589.6 219.9L590.0 225.1L590.4 236.1L590.8 242.1L591.2 245.2L591.6 240.9L592.0 243.5L592.4 245.2L592.8 244.0L593.2 242.0L593.6 245.2L594.0 242.8L594.4 245.2L594.8 245.2L595.2 245.2L595.6 243.5L596.0 245.2L596.4 236.6L596.8 235.9L597.2 245.2L597.6 240.8L598.0 245.2L598.4 243.0L598.8 242.3L599.2 245.2L599.6 245.2L600.0 245.2L600.4 245.2L600.8 245.2L601.2 245.2L601.6 245.2L602.0 245.2L602.4 245.2L602.8 245.2L603.2 245.2L603.6 245.2L604.0 245.2L604.4 245.2L604.8 245.2L605.2 245.2L605.6 245.2L606.0 245.2L606.4 245.2L606.8 245.2L607.2 245.2L607.6 245.2L608.0 245.2L608.4 245.2L608.8 245.2L609.2 245.2L609.6 245.2L610.0 245.2L610.4 245.2L610.8 245.2L611.2 245.2L611.6 245.2L612.0 245.2L612.4 245.2L612.8 245.2L613.2 245.2L613.6 245.2L614.0 245.2L614.4 245.0L614.8 242.1L615.2 244.1L615.6 237.6L616.0 234.6L616.4 224.9L616.8 215.3L617.2 212.1L617.6 204.8L618.0 198.4L618.4 194.1L618.8 193.9L619.2 199.4L619.6 199.6L620.0 203.2L620.4 204.7L620.8 208.1L621.2 218.4L621.6 234.5L622.0 244.6L622.4 244.5L622.8 244.4L623.2 244.4L623.6 242.4L624.0 231.2L624.4 214.8L624.8 218.9L625.2 210.8L625.6 201.4L626.0 200.4L626.4 199.5L626.8 198.9L627.2 183.2L627.6 184.8L628.0 176.1L628.4 172.8L628.8 166.2L629.2 163.4L629.6 172.7L630.0 165.3L630.4 165.1L630.8 175.1L631.2 178.6L631.6 167.1L632.0 170.7L632.4 166.9L632.8 167.9L633.2 166.9L633.6 165.7L634.0 166.6L634.4 170.8L634.8 172.1L635.2 160.7L635.6 146.6L636.0 112.6L636.4 91.8L636.8 68.6L637.2 74.3L637.6 84.6L638.0 99.7L638.4 151.9L638.8 166.0L639.2 163.8L639.6 177.0L640.0 186.8L640.4 191.7L640.8 196.2L641.2 199.8L641.6 203.6L642.0 246.2L642.4 246.2L642.8 246.2L643.2 246.2L643.6 246.2L644.0 246.2L644.4 246.2L644.8 246.2L645.2 246.2L645.6 246.2L646.0 246.2L646.4 246.2L646.8 246.2L647.2 246.2L647.6 246.2L648.0 246.2L648.4 246.2L648.8 246.2L649.2 246.2L649.6 246.2L650.0 246.2L650.4 246.2L650.8 246.2L651.2 246.2L651.6 246.2L652.0 246.3L652.4 246.3L652.8 246.3L653.2 246.3L653.6 246.3L654.0 246.3L654.4 246.3L654.8 246.3L655.2 246.3L655.2 249.5Z" fill="#828286"/><path d="M34.0 249.5L34.0 226.8L34.4 217.1L34.8 225.1L35.2 209.8L35.6 206.5L36.0 206.9L36.4 191.9L36.8 186.7L37.2 190.5L37.6 207.8L38.0 204.5L38.4 215.0L38.8 220.9L39.2 218.9L39.6 226.9L40.0 231.6L40.4 237.3L40.8 249.5L41.2 240.2L41.6 249.1L42.0 249.5L42.4 248.6L42.8 249.5L43.2 249.5L43.6 249.5L44.0 249.5L44.4 249.5L44.8 249.5L45.2 249.5L45.6 249.5L46.0 249.5L46.4 249.5L46.8 249.5L47.2 249.5L47.6 249.5L48.0 249.5L48.4 249.5L48.8 249.5L49.2 249.5L49.6 249.5L50.0 249.5L50.4 249.5L50.8 249.5L51.2 249.5L51.6 249.5L52.0 249.5L52.4 249.5L52.8 249.5L53.2 249.5L53.6 249.5L54.0 249.5L54.4 249.5L54.8 249.5L55.2 249.5L55.6 249.5L56.0 249.5L56.4 249.5L56.8 249.5L57.2 249.5L57.6 249.5L58.0 241.3L58.4 238.9L58.8 238.9L59.2 225.8L59.6 212.3L60.0 199.4L60.4 197.3L60.8 197.2L61.2 190.1L61.6 189.3L62.0 184.8L62.4 181.6L62.8 181.2L63.2 169.7L63.6 165.8L64.0 162.6L64.4 155.2L64.8 145.6L65.2 146.7L65.6 144.4L66.0 138.2L66.4 145.8L66.8 142.5L67.2 143.5L67.6 138.3L68.0 130.1L68.4 126.6L68.8 130.3L69.2 119.0L69.6 116.3L70.0 115.7L70.4 111.6L70.8 118.0L71.2 125.6L71.6 127.8L72.0 134.8L72.4 126.2L72.8 128.8L73.2 129.0L73.6 140.5L74.0 150.5L74.4 159.5L74.8 161.5L75.2 182.0L75.6 200.6L76.0 210.7L76.4 210.5L76.8 214.1L77.2 219.3L77.6 221.0L78.0 231.2L78.4 230.6L78.8 237.9L79.2 231.8L79.6 247.9L80.0 249.5L80.4 249.5L80.8 249.5L81.2 249.5L81.6 249.5L82.0 249.5L82.4 249.5L82.8 249.5L83.2 249.5L83.6 249.5L84.0 249.5L84.4 249.5L84.8 249.5L85.2 249.5L85.6 249.5L86.0 249.5L86.4 249.5L86.8 249.5L87.2 249.5L87.6 249.5L88.0 249.5L88.4 249.5L88.8 249.5L89.2 249.5L89.6 249.5L90.0 249.5L90.4 249.5L90.8 249.5L91.2 249.5L91.6 249.5L92.0 249.5L92.4 249.5L92.8 249.5L93.2 249.5L93.6 249.5L94.0 249.5L94.4 249.5L94.8 249.5L95.2 249.5L95.6 245.9L96.0 236.8L96.4 234.5L96.8 229.0L97.2 225.9L97.6 220.4L98.0 218.0L98.4 200.6L98.8 203.6L99.2 198.3L99.6 199.7L100.0 183.6L100.4 191.2L100.8 188.2L101.2 187.3L101.6 188.1L102.0 183.5L102.4 189.1L102.8 198.8L103.2 206.9L103.6 211.3L104.0 213.6L104.4 212.1L104.8 217.5L105.2 213.3L105.6 218.2L106.0 204.1L106.4 200.8L106.8 192.2L107.2 200.0L107.6 180.7L108.0 166.6L108.4 173.6L108.8 177.9L109.2 172.5L109.6 165.5L110.0 164.7L110.4 163.0L110.8 161.2L111.2 157.9L111.6 155.1L112.0 157.5L112.4 156.7L112.8 150.4L113.2 168.0L113.6 165.0L114.0 172.1L114.4 175.6L114.8 177.3L115.2 177.1L115.6 180.9L116.0 184.5L116.4 174.8L116.8 167.8L117.2 185.5L117.6 183.8L118.0 189.1L118.4 191.4L118.8 192.6L119.2 198.0L119.6 196.0L120.0 200.1L120.4 201.3L120.8 207.0L121.2 206.9L121.6 203.3L122.0 200.6L122.4 199.1L122.8 200.0L123.2 198.2L123.6 195.0L124.0 200.9L124.4 189.3L124.8 191.1L125.2 198.5L125.6 206.4L126.0 206.0L126.4 212.5L126.8 208.8L127.2 215.1L127.6 223.9L128.0 218.9L128.4 224.2L128.8 225.8L129.2 228.4L129.6 226.8L130.0 221.7L130.4 216.8L130.8 216.7L131.2 215.0L131.6 213.6L132.0 209.0L132.4 203.4L132.8 196.9L133.2 191.9L133.6 198.9L134.0 192.8L134.4 190.8L134.8 202.2L135.2 225.4L135.6 242.4L136.0 249.5L136.4 249.5L136.8 249.5L137.2 249.5L137.6 249.5L138.0 249.5L138.4 249.5L138.8 249.5L139.2 249.5L139.6 249.5L140.0 249.5L140.4 249.5L140.8 249.5L141.2 249.5L141.6 249.5L142.0 249.5L142.4 249.5L142.8 249.5L143.2 249.5L143.6 249.5L144.0 249.5L144.4 249.5L144.8 249.5L145.2 249.5L145.6 249.5L146.0 249.5L146.4 249.5L146.8 249.5L147.2 249.5L147.6 249.5L148.0 249.5L148.4 249.5L148.8 249.5L149.2 249.5L149.6 249.5L150.0 249.5L150.4 249.5L150.8 249.5L151.2 249.5L151.6 249.5L152.0 249.5L152.4 249.5L152.8 249.5L153.2 249.5L153.6 249.5L154.0 249.5L154.4 249.5L154.8 249.5L155.2 249.5L155.6 249.5L156.0 249.5L156.4 249.5L156.8 248.3L157.2 247.8L157.6 243.0L158.0 240.8L158.4 232.3L158.8 235.4L159.2 230.8L159.6 220.3L160.0 215.5L160.4 220.5L160.8 206.5L161.2 206.8L161.6 212.9L162.0 210.7L162.4 205.7L162.8 198.9L163.2 192.0L163.6 206.1L164.0 197.6L164.4 198.5L164.8 209.7L165.2 209.9L165.6 200.8L166.0 185.8L166.4 183.2L166.8 186.3L167.2 190.5L167.6 201.4L168.0 196.8L168.4 200.7L168.8 207.3L169.2 210.7L169.6 211.8L170.0 216.7L170.4 219.6L170.8 214.2L171.2 219.7L171.6 209.3L172.0 213.4L172.4 211.1L172.8 216.1L173.2 204.7L173.6 206.7L174.0 205.8L174.4 205.4L174.8 204.8L175.2 200.2L175.6 204.2L176.0 214.2L176.4 217.7L176.8 231.4L177.2 233.4L177.6 240.0L178.0 244.5L178.4 240.5L178.8 249.5L179.2 249.5L179.6 249.5L180.0 249.5L180.4 249.5L180.8 249.5L181.2 249.5L181.6 249.5L182.0 249.5L182.4 249.5L182.8 249.5L183.2 245.8L183.6 242.5L184.0 231.9L184.4 235.5L184.8 230.5L185.2 219.4L185.6 220.2L186.0 214.1L186.4 212.3L186.8 211.6L187.2 208.1L187.6 210.6L188.0 223.8L188.4 231.0L188.8 221.7L189.2 233.4L189.6 235.0L190.0 232.3L190.4 237.9L190.8 233.4L191.2 224.4L191.6 218.1L192.0 216.6L192.4 206.2L192.8 206.4L193.2 199.6L193.6 191.1L194.0 180.9L194.4 163.4L194.8 168.4L195.2 178.7L195.6 179.5L196.0 179.5L196.4 184.8L196.8 182.9L197.2 175.6L197.6 172.5L198.0 165.4L198.4 157.4L198.8 158.3L199.2 161.9L199.6 160.5L200.0 167.2L200.4 173.3L200.8 180.9L201.2 194.0L201.6 189.1L202.0 195.7L202.4 194.5L202.8 205.3L203.2 210.3L203.6 217.8L204.0 218.5L204.4 220.1L204.8 218.9L205.2 215.6L205.6 215.8L206.0 209.9L206.4 210.1L206.8 208.7L207.2 216.4L207.6 213.4L208.0 213.5L208.4 223.6L208.8 219.2L209.2 222.5L209.6 223.9L210.0 221.3L210.4 222.3L210.8 231.7L211.2 223.9L211.6 227.1L212.0 228.5L212.4 232.1L212.8 236.2L213.2 242.0L213.6 248.5L214.0 249.5L214.4 249.5L214.8 249.5L215.2 249.5L215.6 249.5L216.0 249.5L216.4 249.5L216.8 249.5L217.2 249.5L217.6 249.5L218.0 249.5L218.4 249.5L218.8 249.5L219.2 249.5L219.6 249.5L220.0 249.5L220.4 249.5L220.8 249.5L221.2 249.5L221.6 249.5L222.0 249.5L222.4 249.5L222.8 249.5L223.2 249.5L223.6 249.5L224.0 249.5L224.4 249.5L224.8 249.5L225.2 249.5L225.6 249.5L226.0 249.5L226.4 249.5L226.8 249.5L227.2 249.5L227.6 249.5L228.0 249.5L228.4 249.5L228.8 249.5L229.2 249.5L229.6 249.5L230.0 246.6L230.4 249.5L230.8 249.5L231.2 249.5L231.6 249.5L232.0 249.5L232.4 249.5L232.8 249.5L233.2 249.5L233.6 249.5L234.0 249.5L234.4 249.5L234.8 249.5L235.2 249.5L235.6 249.5L236.0 249.5L236.4 249.5L236.8 249.5L237.2 249.5L237.6 249.5L238.0 249.5L238.4 249.5L238.8 249.5L239.2 249.5L239.6 249.5L240.0 249.5L240.4 249.5L240.8 249.5L241.2 249.5L241.6 249.5L242.0 249.5L242.4 249.5L242.8 249.5L243.2 249.5L243.6 249.5L244.0 249.5L244.4 249.5L244.8 249.5L245.2 249.5L245.6 249.5L246.0 249.5L246.4 249.5L246.8 249.5L247.2 249.5L247.6 249.5L248.0 249.5L248.4 249.5L248.8 249.5L249.2 249.5L249.6 249.5L250.0 249.5L250.4 249.5L250.8 249.5L251.2 249.5L251.6 249.5L252.0 249.5L252.4 249.5L252.8 249.5L253.2 249.5L253.6 249.5L254.0 247.9L254.4 242.1L254.8 240.9L255.2 237.7L255.6 239.6L256.0 227.7L256.4 211.5L256.8 214.6L257.2 211.1L257.6 219.5L258.0 226.5L258.4 219.5L258.8 217.9L259.2 213.6L259.6 205.9L260.0 197.9L260.4 196.0L260.8 197.4L261.2 203.1L261.6 206.8L262.0 210.6L262.4 215.8L262.8 209.9L263.2 216.4L263.6 213.5L264.0 216.1L264.4 225.0L264.8 217.1L265.2 222.4L265.6 224.0L266.0 228.6L266.4 235.4L266.8 233.0L267.2 229.1L267.6 226.2L268.0 225.6L268.4 231.2L268.8 222.3L269.2 220.4L269.6 216.3L270.0 215.0L270.4 217.2L270.8 207.7L271.2 210.5L271.6 198.8L272.0 209.0L272.4 212.4L272.8 208.4L273.2 202.1L273.6 205.6L274.0 211.7L274.4 205.3L274.8 212.9L275.2 220.1L275.6 220.2L276.0 227.1L276.4 231.5L276.8 225.6L277.2 231.8L277.6 221.7L278.0 207.9L278.4 203.3L278.8 201.8L279.2 207.1L279.6 195.6L280.0 194.8L280.4 180.0L280.8 175.4L281.2 168.1L281.6 165.8L282.0 176.4L282.4 181.5L282.8 180.1L283.2 183.3L283.6 186.2L284.0 179.7L284.4 187.0L284.8 187.3L285.2 192.7L285.6 202.4L286.0 200.5L286.4 202.4L286.8 202.9L287.2 206.2L287.6 209.8L288.0 209.2L288.4 209.5L288.8 209.7L289.2 208.7L289.6 197.6L290.0 199.1L290.4 200.3L290.8 191.4L291.2 181.9L291.6 179.2L292.0 173.0L292.4 165.6L292.8 174.2L293.2 175.2L293.6 179.1L294.0 188.7L294.4 190.3L294.8 187.5L295.2 203.5L295.6 207.3L296.0 203.1L296.4 205.6L296.8 210.0L297.2 212.1L297.6 219.9L298.0 232.9L298.4 245.0L298.8 244.9L299.2 248.3L299.6 249.5L300.0 249.5L300.4 235.5L300.8 245.5L301.2 231.5L301.6 231.9L302.0 224.2L302.4 215.8L302.8 212.2L303.2 204.1L303.6 214.8L304.0 219.4L304.4 229.2L304.8 227.8L305.2 232.4L305.6 229.7L306.0 229.6L306.4 234.4L306.8 238.8L307.2 230.8L307.6 226.4L308.0 228.8L308.4 236.6L308.8 235.3L309.2 234.1L309.6 246.9L310.0 234.1L310.4 236.2L310.8 236.8L311.2 237.9L311.6 234.6L312.0 231.4L312.4 235.6L312.8 223.1L313.2 221.3L313.6 207.5L314.0 201.1L314.4 210.4L314.8 215.1L315.2 216.7L315.6 225.3L316.0 220.3L316.4 224.7L316.8 228.7L317.2 226.7L317.6 232.3L318.0 231.7L318.4 231.5L318.8 242.5L319.2 243.1L319.6 237.8L320.0 245.2L320.4 243.7L320.8 248.4L321.2 249.5L321.6 247.1L322.0 239.8L322.4 248.5L322.8 249.5L323.2 249.5L323.6 249.5L324.0 249.5L324.4 249.5L324.8 249.5L325.2 249.5L325.6 249.5L326.0 249.5L326.4 249.5L326.8 249.5L327.2 249.5L327.6 249.5L328.0 244.6L328.4 247.7L328.8 249.5L329.2 249.5L329.6 249.5L330.0 249.5L330.4 249.5L330.8 249.5L331.2 249.5L331.6 249.5L332.0 249.5L332.4 249.5L332.8 249.5L333.2 249.5L333.6 249.5L334.0 249.5L334.4 249.5L334.8 249.5L335.2 249.5L335.6 249.5L336.0 249.5L336.4 249.5L336.8 249.5L337.2 249.5L337.6 249.5L338.0 249.5L338.4 249.5L338.8 249.5L339.2 249.5L339.6 249.5L340.0 249.5L340.4 249.5L340.8 249.5L341.2 249.5L341.6 249.5L342.0 249.5L342.4 249.5L342.8 249.5L343.2 249.5L343.6 249.5L344.0 249.5L344.4 249.5L344.8 249.5L345.2 249.5L345.6 249.5L346.0 249.5L346.4 249.5L346.8 249.5L347.2 247.2L347.6 238.8L348.0 239.1L348.4 232.8L348.8 227.0L349.2 230.4L349.6 212.7L350.0 210.8L350.4 205.6L350.8 197.1L351.2 192.4L351.6 194.4L352.0 192.4L352.4 204.2L352.8 214.7L353.2 228.1L353.6 223.5L354.0 222.2L354.4 223.5L354.8 225.8L355.2 234.2L355.6 231.6L356.0 240.1L356.4 236.2L356.8 237.1L357.2 249.5L357.6 249.5L358.0 249.5L358.4 249.5L358.8 248.8L359.2 249.5L359.6 249.5L360.0 249.5L360.4 249.5L360.8 249.5L361.2 249.5L361.6 249.5L362.0 249.5L362.4 249.5L362.8 249.5L363.2 249.5L363.6 249.5L364.0 249.5L364.4 249.5L364.8 249.5L365.2 249.5L365.6 249.5L366.0 249.5L366.4 249.5L366.8 249.5L367.2 249.5L367.6 249.5L368.0 249.5L368.4 249.5L368.8 249.5L369.2 249.5L369.6 249.5L370.0 249.5L370.4 249.5L370.8 249.5L371.2 249.5L371.6 249.5L372.0 249.5L372.4 249.5L372.8 249.5L373.2 249.5L373.6 249.5L374.0 237.6L374.4 237.1L374.8 232.6L375.2 236.8L375.6 233.8L376.0 241.6L376.4 246.9L376.8 249.5L377.2 248.2L377.6 243.1L378.0 243.2L378.4 237.5L378.8 230.4L379.2 218.9L379.6 214.8L380.0 212.7L380.4 219.5L380.8 226.9L381.2 223.0L381.6 225.2L382.0 228.6L382.4 228.5L382.8 238.4L383.2 246.3L383.6 249.5L384.0 249.5L384.4 249.5L384.8 249.5L385.2 249.5L385.6 249.5L386.0 249.5L386.4 249.5L386.8 249.5L387.2 249.5L387.6 249.5L388.0 249.5L388.4 249.5L388.8 249.5L389.2 249.5L389.6 249.5L390.0 249.5L390.4 249.5L390.8 249.5L391.2 249.5L391.6 249.5L392.0 249.5L392.4 249.5L392.8 249.5L393.2 249.5L393.6 249.5L394.0 249.5L394.4 249.5L394.8 249.5L395.2 249.5L395.6 249.5L396.0 249.5L396.4 249.5L396.8 249.5L397.2 249.5L397.6 249.5L398.0 249.5L398.4 249.5L398.8 249.5L399.2 249.5L399.6 249.5L400.0 249.5L400.4 249.5L400.8 249.5L401.2 249.5L401.6 249.5L402.0 249.5L402.4 249.5L402.8 249.2L403.2 249.5L403.6 249.5L404.0 249.5L404.4 249.5L404.8 249.5L405.2 249.5L405.6 249.5L406.0 249.5L406.4 249.5L406.8 249.5L407.2 249.5L407.6 249.5L408.0 249.5L408.4 249.5L408.8 249.5L409.2 249.5L409.6 249.5L410.0 249.5L410.4 249.5L410.8 249.5L411.2 249.5L411.6 246.7L412.0 247.0L412.4 245.3L412.8 249.5L413.2 249.5L413.6 249.5L414.0 249.5L414.4 249.5L414.8 249.5L415.2 249.5L415.6 249.5L416.0 249.5L416.4 249.5L416.8 249.5L417.2 249.5L417.6 249.5L418.0 249.5L418.4 249.5L418.8 249.5L419.2 247.4L419.6 240.9L420.0 242.9L420.4 245.5L420.8 240.5L421.2 248.9L421.6 248.1L422.0 249.5L422.4 249.5L422.8 249.5L423.2 249.5L423.6 249.5L424.0 249.5L424.4 249.5L424.8 249.5L425.2 249.5L425.6 249.5L426.0 249.5L426.4 249.5L426.8 248.3L427.2 248.7L427.6 244.3L428.0 242.1L428.4 242.2L428.8 235.9L429.2 234.0L429.6 229.9L430.0 232.0L430.4 231.6L430.8 228.8L431.2 229.3L431.6 225.3L432.0 235.0L432.4 241.8L432.8 243.9L433.2 245.6L433.6 246.2L434.0 249.5L434.4 249.5L434.8 249.5L435.2 248.9L435.6 249.5L436.0 244.8L436.4 239.4L436.8 249.4L437.2 249.5L437.6 249.5L438.0 249.5L438.4 249.5L438.8 249.5L439.2 249.5L439.6 249.5L440.0 249.5L440.4 249.5L440.8 249.5L441.2 249.5L441.6 249.5L442.0 249.5L442.4 249.5L442.8 249.5L443.2 249.5L443.6 249.5L444.0 249.5L444.4 249.5L444.8 249.5L445.2 249.5L445.6 249.5L446.0 249.5L446.4 249.5L446.8 249.5L447.2 249.5L447.6 249.5L448.0 249.5L448.4 249.5L448.8 249.5L449.2 249.5L449.6 249.5L450.0 249.5L450.4 249.5L450.8 249.5L451.2 249.5L451.6 249.5L452.0 249.5L452.4 249.5L452.8 249.5L453.2 249.5L453.6 249.5L454.0 249.5L454.4 249.5L454.8 249.5L455.2 249.5L455.6 249.5L456.0 249.5L456.4 249.5L456.8 249.5L457.2 249.5L457.6 249.5L458.0 249.5L458.4 249.5L458.8 249.5L459.2 249.5L459.6 249.5L460.0 249.5L460.4 249.5L460.8 249.5L461.2 249.5L461.6 249.5L462.0 249.5L462.4 243.8L462.8 224.2L463.2 204.7L463.6 194.7L464.0 175.8L464.4 163.8L464.8 158.2L465.2 149.8L465.6 130.0L466.0 96.9L466.4 85.8L466.8 71.0L467.2 95.5L467.6 122.2L468.0 120.7L468.4 110.2L468.8 112.9L469.2 106.5L469.6 128.7L470.0 118.7L470.4 113.0L470.8 73.5L471.2 101.7L471.6 119.5L472.0 129.3L472.4 134.6L472.8 149.7L473.2 171.1L473.6 175.8L474.0 181.2L474.4 182.9L474.8 199.8L475.2 202.9L475.6 221.6L476.0 231.4L476.4 233.4L476.8 235.4L477.2 249.5L477.6 249.5L478.0 249.5L478.4 249.5L478.8 249.5L479.2 249.5L479.6 249.5L480.0 249.5L480.4 249.5L480.8 249.5L481.2 249.5L481.6 249.5L482.0 249.5L482.4 249.5L482.8 249.5L483.2 249.5L483.6 249.5L484.0 249.5L484.4 249.5L484.8 249.5L485.2 249.5L485.6 249.5L486.0 249.5L486.4 249.5L486.8 249.5L487.2 249.5L487.6 249.5L488.0 249.5L488.4 249.5L488.8 249.5L489.2 249.5L489.6 249.5L490.0 249.5L490.4 249.5L490.8 242.9L491.2 247.3L491.6 247.1L492.0 249.5L492.4 249.5L492.8 249.5L493.2 249.5L493.6 249.5L494.0 249.5L494.4 249.5L494.8 249.5L495.2 249.5L495.6 249.5L496.0 249.5L496.4 249.5L496.8 249.5L497.2 249.5L497.6 249.5L498.0 249.5L498.4 249.5L498.8 249.5L499.2 249.5L499.6 249.5L500.0 249.5L500.4 249.5L500.8 249.5L501.2 249.5L501.6 249.5L502.0 249.5L502.4 249.5L502.8 249.5L503.2 249.5L503.6 249.5L504.0 249.5L504.4 249.5L504.8 249.5L505.2 249.5L505.6 249.5L506.0 249.5L506.4 249.5L506.8 249.5L507.2 227.9L507.6 220.2L508.0 215.8L508.4 213.0L508.8 209.1L509.2 216.3L509.6 219.4L510.0 227.7L510.4 227.1L510.8 209.1L511.2 214.0L511.6 213.9L512.0 213.7L512.4 212.0L512.8 224.4L513.2 217.4L513.6 216.9L514.0 216.4L514.4 220.1L514.8 222.6L515.2 221.4L515.6 220.0L516.0 213.7L516.4 215.5L516.8 214.8L517.2 214.6L517.6 205.0L518.0 197.5L518.4 189.4L518.8 189.6L519.2 188.2L519.6 189.8L520.0 197.9L520.4 197.8L520.8 193.6L521.2 191.6L521.6 194.8L522.0 197.6L522.4 200.1L522.8 200.7L523.2 207.4L523.6 208.0L524.0 201.3L524.4 204.7L524.8 197.4L525.2 196.2L525.6 185.2L526.0 204.1L526.4 189.8L526.8 191.4L527.2 198.6L527.6 202.6L528.0 205.6L528.4 201.9L528.8 203.4L529.2 213.0L529.6 209.5L530.0 219.0L530.4 217.7L530.8 223.0L531.2 228.8L531.6 223.9L532.0 229.5L532.4 222.5L532.8 228.4L533.2 239.9L533.6 239.8L534.0 234.2L534.4 233.2L534.8 230.7L535.2 231.2L535.6 222.4L536.0 228.7L536.4 233.0L536.8 231.1L537.2 235.0L537.6 240.7L538.0 232.0L538.4 232.2L538.8 230.7L539.2 229.7L539.6 239.2L540.0 240.6L540.4 246.0L540.8 230.8L541.2 245.5L541.6 238.1L542.0 233.6L542.4 232.6L542.8 239.2L543.2 239.0L543.6 236.0L544.0 243.4L544.4 229.5L544.8 224.1L545.2 225.4L545.6 232.8L546.0 232.9L546.4 233.5L546.8 232.9L547.2 227.9L547.6 228.1L548.0 228.9L548.4 227.1L548.8 226.6L549.2 235.4L549.6 234.1L550.0 243.3L550.4 243.7L550.8 239.3L551.2 244.9L551.6 249.5L552.0 241.7L552.4 242.8L552.8 247.1L553.2 246.1L553.6 249.5L554.0 241.8L554.4 231.4L554.8 230.2L555.2 228.3L555.6 236.9L556.0 240.2L556.4 239.2L556.8 244.7L557.2 249.5L557.6 249.5L558.0 249.5L558.4 249.5L558.8 249.5L559.2 249.5L559.6 249.5L560.0 249.5L560.4 249.5L560.8 249.5L561.2 249.5L561.6 249.5L562.0 249.5L562.4 249.5L562.8 249.5L563.2 249.5L563.6 249.5L564.0 249.5L564.4 249.5L564.8 247.6L565.2 249.5L565.6 249.5L566.0 248.5L566.4 249.5L566.8 241.8L567.2 235.5L567.6 239.4L568.0 234.2L568.4 234.2L568.8 232.3L569.2 238.0L569.6 243.6L570.0 244.8L570.4 243.6L570.8 249.5L571.2 249.5L571.6 249.4L572.0 245.9L572.4 243.8L572.8 239.6L573.2 231.2L573.6 226.0L574.0 217.8L574.4 215.4L574.8 208.3L575.2 207.8L575.6 215.6L576.0 216.3L576.4 223.2L576.8 231.2L577.2 228.8L577.6 229.9L578.0 225.3L578.4 237.1L578.8 229.8L579.2 229.5L579.6 228.1L580.0 233.9L580.4 229.7L580.8 230.2L581.2 235.7L581.6 232.2L582.0 231.8L582.4 234.8L582.8 241.9L583.2 230.0L583.6 236.8L584.0 231.2L584.4 232.3L584.8 230.4L585.2 228.9L585.6 223.6L586.0 227.5L586.4 231.2L586.8 233.8L587.2 235.7L587.6 241.6L588.0 231.4L588.4 238.4L588.8 229.2L589.2 222.5L589.6 224.3L590.0 229.4L590.4 240.4L590.8 246.4L591.2 249.5L591.6 245.3L592.0 247.9L592.4 249.5L592.8 248.3L593.2 246.3L593.6 249.5L594.0 247.1L594.4 249.5L594.8 249.5L595.2 249.5L595.6 247.8L596.0 249.5L596.4 240.9L596.8 240.2L597.2 249.5L597.6 245.2L598.0 249.5L598.4 247.3L598.8 246.6L599.2 249.5L599.6 249.5L600.0 249.5L600.4 249.5L600.8 249.5L601.2 249.5L601.6 249.5L602.0 249.5L602.4 249.5L602.8 249.5L603.2 249.5L603.6 249.5L604.0 249.5L604.4 249.5L604.8 249.5L605.2 249.5L605.6 249.5L606.0 249.5L606.4 249.5L606.8 249.5L607.2 249.5L607.6 249.5L608.0 249.5L608.4 249.5L608.8 249.5L609.2 249.5L609.6 249.5L610.0 249.5L610.4 249.5L610.8 249.5L611.2 249.5L611.6 249.5L612.0 249.5L612.4 249.5L612.8 249.5L613.2 249.5L613.6 249.5L614.0 249.5L614.4 249.3L614.8 246.3L615.2 248.4L615.6 241.8L616.0 238.9L616.4 229.2L616.8 219.6L617.2 216.4L617.6 209.1L618.0 202.7L618.4 198.4L618.8 198.2L619.2 203.8L619.6 204.1L620.0 207.8L620.4 209.3L620.8 212.8L621.2 223.2L621.6 239.4L622.0 249.5L622.4 249.5L622.8 249.5L623.2 249.5L623.6 247.5L624.0 236.2L624.4 219.8L624.8 223.7L625.2 215.6L625.6 206.1L626.0 205.1L626.4 204.1L626.8 203.4L627.2 187.7L627.6 189.2L628.0 180.5L628.4 177.0L628.8 170.4L629.2 167.6L629.6 176.7L630.0 169.3L630.4 169.1L630.8 179.0L631.2 182.4L631.6 170.9L632.0 174.4L632.4 170.5L632.8 171.4L633.2 170.4L633.6 169.1L634.0 170.1L634.4 174.2L634.8 175.5L635.2 164.1L635.6 150.0L636.0 116.0L636.4 95.1L636.8 72.0L637.2 77.7L637.6 88.0L638.0 103.1L638.4 155.3L638.8 169.3L639.2 167.2L639.6 180.4L640.0 190.1L640.4 195.1L640.8 199.6L641.2 203.1L641.6 206.9L642.0 249.5L642.4 249.5L642.8 249.5L643.2 249.5L643.6 249.5L644.0 249.5L644.4 249.5L644.8 249.5L645.2 249.5L645.6 249.5L646.0 249.5L646.4 249.5L646.8 249.5L647.2 249.5L647.6 249.5L648.0 249.5L648.4 249.5L648.8 249.5L649.2 249.5L649.6 249.5L650.0 249.5L650.4 249.5L650.8 249.5L651.2 249.5L651.6 249.5L652.0 249.5L652.4 249.5L652.8 249.5L653.2 249.5L653.6 249.5L654.0 249.5L654.4 249.5L654.8 249.5L655.2 249.5L655.2 249.5Z" fill="#FFC000"/><path d="M34.0 249.5L34.0 249.5L34.4 249.5L34.8 249.5L35.2 249.5L35.6 249.5L36.0 249.5L36.4 249.5L36.8 249.5L37.2 249.5L37.6 249.5L38.0 249.5L38.4 249.5L38.8 249.5L39.2 249.5L39.6 249.5L40.0 249.5L40.4 249.5L40.8 249.5L41.2 249.5L41.6 249.5L42.0 249.5L42.4 249.5L42.8 249.5L43.2 249.5L43.6 249.5L44.0 249.5L44.4 249.5L44.8 249.5L45.2 249.5L45.6 249.5L46.0 249.5L46.4 249.5L46.8 249.5L47.2 249.5L47.6 249.5L48.0 249.5L48.4 249.5L48.8 249.5L49.2 249.5L49.6 249.5L50.0 249.5L50.4 249.5L50.8 249.5L51.2 249.5L51.6 249.5L52.0 249.5L52.4 249.5L52.8 249.5L53.2 267.7L53.6 267.7L54.0 267.7L54.4 268.0L54.8 270.5L55.2 265.0L55.6 274.4L56.0 280.2L56.4 278.7L56.8 279.2L57.2 268.0L57.6 260.3L58.0 255.1L58.4 257.2L58.8 257.2L59.2 257.2L59.6 257.2L60.0 257.2L60.4 257.2L60.8 257.2L61.2 257.2L61.6 257.2L62.0 257.2L62.4 257.2L62.8 257.2L63.2 258.7L63.6 258.7L64.0 258.7L64.4 262.3L64.8 262.3L65.2 262.3L65.6 262.3L66.0 262.3L66.4 262.3L66.8 262.3L67.2 262.3L67.6 262.3L68.0 262.3L68.4 257.2L68.8 257.2L69.2 257.2L69.6 257.2L70.0 257.2L70.4 257.2L70.8 256.5L71.2 256.5L71.6 256.5L72.0 249.5L72.4 249.5L72.8 249.5L73.2 249.5L73.6 249.5L74.0 249.5L74.4 249.5L74.8 249.5L75.2 249.5L75.6 249.5L76.0 249.5L76.4 249.5L76.8 249.5L77.2 249.5L77.6 249.5L78.0 249.5L78.4 249.5L78.8 249.5L79.2 249.5L79.6 249.5L80.0 249.5L80.4 249.5L80.8 249.5L81.2 249.5L81.6 249.5L82.0 249.5L82.4 249.5L82.8 249.5L83.2 249.5L83.6 249.5L84.0 249.5L84.4 249.5L84.8 249.5L85.2 249.5L85.6 249.5L86.0 249.5L86.4 249.5L86.8 249.5L87.2 249.5L87.6 249.5L88.0 249.5L88.4 249.5L88.8 249.5L89.2 249.5L89.6 249.5L90.0 249.5L90.4 249.5L90.8 249.5L91.2 249.5L91.6 249.5L92.0 249.5L92.4 249.5L92.8 249.5L93.2 249.5L93.6 249.5L94.0 249.5L94.4 249.5L94.8 249.5L95.2 249.5L95.6 249.5L96.0 249.5L96.4 249.5L96.8 249.5L97.2 249.5L97.6 249.5L98.0 249.5L98.4 249.5L98.8 249.5L99.2 249.5L99.6 249.5L100.0 249.5L100.4 249.5L100.8 249.5L101.2 249.5L101.6 249.5L102.0 256.2L102.4 256.2L102.8 256.2L103.2 256.3L103.6 256.3L104.0 256.3L104.4 256.4L104.8 256.4L105.2 256.4L105.6 256.4L106.0 257.0L106.4 257.0L106.8 257.0L107.2 257.1L107.6 257.1L108.0 257.1L108.4 258.1L108.8 258.1L109.2 258.1L109.6 262.3L110.0 262.3L110.4 262.3L110.8 262.3L111.2 262.3L111.6 262.3L112.0 262.3L112.4 262.3L112.8 262.3L113.2 257.0L113.6 257.0L114.0 257.0L114.4 253.4L114.8 253.4L115.2 253.4L115.6 253.4L116.0 249.5L116.4 249.5L116.8 249.5L117.2 249.5L117.6 249.5L118.0 249.5L118.4 249.5L118.8 249.5L119.2 249.5L119.6 249.5L120.0 249.5L120.4 249.5L120.8 249.5L121.2 249.5L121.6 249.5L122.0 249.5L122.4 249.5L122.8 249.5L123.2 249.5L123.6 249.5L124.0 249.5L124.4 249.5L124.8 249.5L125.2 249.5L125.6 249.5L126.0 249.5L126.4 249.5L126.8 249.5L127.2 249.5L127.6 249.5L128.0 249.5L128.4 249.5L128.8 249.5L129.2 249.5L129.6 249.5L130.0 249.5L130.4 249.5L130.8 249.5L131.2 249.5L131.6 249.5L132.0 249.5L132.4 249.5L132.8 249.5L133.2 249.5L133.6 249.5L134.0 249.5L134.4 249.5L134.8 249.5L135.2 249.5L135.6 249.5L136.0 249.5L136.4 249.5L136.8 249.5L137.2 249.5L137.6 249.5L138.0 249.5L138.4 249.5L138.8 249.5L139.2 249.5L139.6 249.5L140.0 249.5L140.4 249.5L140.8 249.5L141.2 249.5L141.6 249.5L142.0 249.5L142.4 249.5L142.8 249.5L143.2 249.5L143.6 249.5L144.0 249.5L144.4 249.5L144.8 249.5L145.2 249.5L145.6 249.5L146.0 249.5L146.4 249.5L146.8 249.5L147.2 249.5L147.6 249.5L148.0 249.5L148.4 249.5L148.8 249.5L149.2 249.5L149.6 249.5L150.0 249.5L150.4 249.5L150.8 249.5L151.2 249.5L151.6 249.5L152.0 249.5L152.4 249.5L152.8 249.5L153.2 249.5L153.6 249.5L154.0 249.5L154.4 249.5L154.8 249.5L155.2 249.5L155.6 249.5L156.0 249.5L156.4 249.5L156.8 249.5L157.2 249.5L157.6 249.5L158.0 249.5L158.4 249.5L158.8 249.5L159.2 249.5L159.6 249.5L160.0 249.5L160.4 249.5L160.8 249.5L161.2 249.5L161.6 249.5L162.0 249.5L162.4 249.5L162.8 249.5L163.2 249.5L163.6 249.5L164.0 249.5L164.4 249.5L164.8 249.5L165.2 249.5L165.6 249.5L166.0 249.5L166.4 249.5L166.8 249.5L167.2 249.5L167.6 249.5L168.0 249.5L168.4 249.5L168.8 249.5L169.2 249.5L169.6 249.5L170.0 249.5L170.4 249.5L170.8 249.5L171.2 249.5L171.6 249.5L172.0 249.5L172.4 249.5L172.8 249.5L173.2 257.0L173.6 257.0L174.0 257.0L174.4 257.0L174.8 257.0L175.2 257.0L175.6 257.0L176.0 257.0L176.4 257.0L176.8 257.0L177.2 256.6L177.6 256.6L178.0 256.6L178.4 256.4L178.8 261.0L179.2 268.1L179.6 274.2L180.0 277.9L180.4 273.9L180.8 264.0L181.2 262.2L181.6 275.0L182.0 265.5L182.4 261.6L182.8 258.3L183.2 249.5L183.6 249.5L184.0 249.5L184.4 249.5L184.8 249.5L185.2 249.5L185.6 249.5L186.0 249.5L186.4 249.5L186.8 249.5L187.2 249.5L187.6 249.5L188.0 249.5L188.4 249.5L188.8 249.5L189.2 249.5L189.6 249.5L190.0 249.5L190.4 249.5L190.8 249.5L191.2 249.5L191.6 249.5L192.0 249.5L192.4 249.5L192.8 249.5L193.2 249.5L193.6 249.5L194.0 249.5L194.4 249.5L194.8 249.5L195.2 249.5L195.6 249.5L196.0 252.1L196.4 252.1L196.8 252.1L197.2 252.1L197.6 252.1L198.0 252.1L198.4 255.0L198.8 255.0L199.2 255.0L199.6 269.2L200.0 269.2L200.4 269.2L200.8 267.3L201.2 267.3L201.6 267.3L202.0 266.6L202.4 266.6L202.8 266.6L203.2 263.5L203.6 263.5L204.0 263.5L204.4 262.7L204.8 262.7L205.2 262.7L205.6 262.7L206.0 261.7L206.4 261.7L206.8 261.7L207.2 258.2L207.6 258.2L208.0 258.2L208.4 257.9L208.8 257.9L209.2 257.9L209.6 255.8L210.0 255.8L210.4 255.8L210.8 249.5L211.2 249.5L211.6 249.5L212.0 249.5L212.4 249.5L212.8 249.5L213.2 249.5L213.6 249.5L214.0 249.5L214.4 249.5L214.8 249.5L215.2 249.5L215.6 249.5L216.0 249.5L216.4 249.5L216.8 249.5L217.2 249.5L217.6 249.5L218.0 249.5L218.4 249.5L218.8 249.5L219.2 249.5L219.6 249.5L220.0 249.5L220.4 249.5L220.8 249.5L221.2 249.5L221.6 249.5L222.0 249.5L222.4 249.5L222.8 249.5L223.2 249.5L223.6 249.5L224.0 249.5L224.4 249.5L224.8 249.5L225.2 249.5L225.6 249.5L226.0 249.5L226.4 249.5L226.8 249.5L227.2 249.5L227.6 249.5L228.0 249.5L228.4 249.5L228.8 249.5L229.2 249.5L229.6 249.5L230.0 249.5L230.4 249.5L230.8 249.5L231.2 249.5L231.6 249.5L232.0 249.5L232.4 249.5L232.8 249.5L233.2 249.5L233.6 249.5L234.0 249.5L234.4 249.5L234.8 249.5L235.2 249.5L235.6 249.5L236.0 249.5L236.4 249.5L236.8 249.5L237.2 249.5L237.6 249.5L238.0 249.5L238.4 249.5L238.8 249.5L239.2 249.5L239.6 249.5L240.0 249.5L240.4 249.5L240.8 249.5L241.2 249.5L241.6 249.5L242.0 249.5L242.4 249.5L242.8 249.5L243.2 249.5L243.6 249.5L244.0 249.5L244.4 249.5L244.8 249.5L245.2 249.5L245.6 249.5L246.0 249.5L246.4 249.5L246.8 249.5L247.2 249.5L247.6 249.5L248.0 249.5L248.4 249.5L248.8 249.5L249.2 249.5L249.6 249.5L250.0 249.5L250.4 249.5L250.8 249.5L251.2 249.5L251.6 249.5L252.0 249.5L252.4 249.5L252.8 249.5L253.2 249.5L253.6 249.5L254.0 249.5L254.4 249.5L254.8 249.5L255.2 249.5L255.6 249.5L256.0 249.5L256.4 249.5L256.8 249.5L257.2 249.5L257.6 249.5L258.0 249.5L258.4 249.5L258.8 249.5L259.2 249.5L259.6 249.5L260.0 249.5L260.4 249.5L260.8 249.5L261.2 249.5L261.6 249.5L262.0 249.5L262.4 249.5L262.8 249.5L263.2 249.5L263.6 249.5L264.0 249.5L264.4 249.5L264.8 249.5L265.2 249.5L265.6 249.5L266.0 249.5L266.4 249.5L266.8 249.5L267.2 249.5L267.6 249.5L268.0 249.5L268.4 249.5L268.8 249.5L269.2 249.5L269.6 249.5L270.0 249.5L270.4 249.5L270.8 249.5L271.2 249.5L271.6 249.5L272.0 249.5L272.4 249.5L272.8 249.5L273.2 249.5L273.6 249.5L274.0 249.5L274.4 249.5L274.8 249.5L275.2 249.5L275.6 249.5L276.0 249.5L276.4 249.5L276.8 249.5L277.2 249.5L277.6 249.5L278.0 249.5L278.4 249.5L278.8 249.5L279.2 249.5L279.6 249.5L280.0 249.5L280.4 249.5L280.8 249.5L281.2 249.5L281.6 249.5L282.0 249.5L282.4 249.5L282.8 249.5L283.2 249.5L283.6 249.5L284.0 249.5L284.4 249.5L284.8 249.5L285.2 249.5L285.6 249.5L286.0 249.5L286.4 249.5L286.8 249.5L287.2 249.5L287.6 249.5L288.0 249.5L288.4 249.5L288.8 249.5L289.2 249.5L289.6 249.5L290.0 249.5L290.4 249.5L290.8 249.5L291.2 249.5L291.6 249.5L292.0 249.5L292.4 249.5L292.8 249.5L293.2 249.5L293.6 249.5L294.0 249.5L294.4 249.5L294.8 249.5L295.2 249.5L295.6 249.5L296.0 249.5L296.4 249.5L296.8 249.5L297.2 249.5L297.6 249.5L298.0 249.5L298.4 249.5L298.8 249.5L299.2 249.5L299.6 249.5L300.0 249.5L300.4 249.5L300.8 249.5L301.2 249.5L301.6 249.5L302.0 249.5L302.4 249.5L302.8 249.5L303.2 249.5L303.6 249.5L304.0 249.5L304.4 249.5L304.8 249.5L305.2 249.5L305.6 249.5L306.0 249.5L306.4 249.5L306.8 249.5L307.2 249.5L307.6 249.5L308.0 249.5L308.4 249.5L308.8 249.5L309.2 249.5L309.6 249.5L310.0 249.5L310.4 249.5L310.8 249.5L311.2 249.5L311.6 249.5L312.0 249.5L312.4 249.5L312.8 249.5L313.2 249.5L313.6 249.5L314.0 249.5L314.4 249.5L314.8 249.5L315.2 249.5L315.6 249.5L316.0 249.5L316.4 249.5L316.8 249.5L317.2 249.5L317.6 249.5L318.0 249.5L318.4 249.5L318.8 249.5L319.2 249.5L319.6 249.5L320.0 249.5L320.4 249.5L320.8 249.5L321.2 249.5L321.6 249.5L322.0 249.5L322.4 249.5L322.8 249.5L323.2 249.5L323.6 249.5L324.0 249.5L324.4 249.5L324.8 249.5L325.2 249.5L325.6 249.5L326.0 249.5L326.4 249.5L326.8 249.5L327.2 249.5L327.6 249.5L328.0 249.5L328.4 249.5L328.8 249.5L329.2 249.5L329.6 249.5L330.0 249.5L330.4 249.5L330.8 249.5L331.2 249.5L331.6 249.5L332.0 249.5L332.4 249.5L332.8 249.5L333.2 249.5L333.6 249.5L334.0 249.5L334.4 249.5L334.8 249.5L335.2 249.5L335.6 249.5L336.0 249.5L336.4 249.5L336.8 249.5L337.2 249.5L337.6 249.5L338.0 249.5L338.4 249.5L338.8 249.5L339.2 249.5L339.6 249.5L340.0 249.5L340.4 249.5L340.8 249.5L341.2 249.5L341.6 249.5L342.0 299.3L342.4 304.1L342.8 302.5L343.2 305.7L343.6 319.2L344.0 325.1L344.4 321.4L344.8 310.8L345.2 300.8L345.6 301.3L346.0 292.2L346.4 288.2L346.8 286.8L347.2 285.9L347.6 285.9L348.0 285.9L348.4 289.5L348.8 289.5L349.2 289.5L349.6 300.4L350.0 300.4L350.4 300.4L350.8 301.1L351.2 301.1L351.6 301.1L352.0 300.6L352.4 300.6L352.8 300.6L353.2 297.9L353.6 297.9L354.0 297.9L354.4 297.5L354.8 297.5L355.2 297.5L355.6 297.5L356.0 297.2L356.4 297.2L356.8 297.2L357.2 297.6L357.6 303.0L358.0 294.2L358.4 286.6L358.8 275.5L359.2 281.1L359.6 275.5L360.0 286.3L360.4 286.1L360.8 249.5L361.2 249.5L361.6 249.5L362.0 249.5L362.4 249.5L362.8 249.5L363.2 249.5L363.6 249.5L364.0 249.5L364.4 249.5L364.8 249.5L365.2 249.5L365.6 249.5L366.0 249.5L366.4 249.5L366.8 249.5L367.2 249.5L367.6 249.5L368.0 249.5L368.4 249.5L368.8 249.5L369.2 249.5L369.6 249.5L370.0 249.5L370.4 249.5L370.8 249.5L371.2 249.5L371.6 249.5L372.0 249.5L372.4 249.5L372.8 249.5L373.2 249.5L373.6 249.5L374.0 249.5L374.4 249.5L374.8 249.5L375.2 249.5L375.6 249.5L376.0 249.5L376.4 249.5L376.8 249.5L377.2 249.5L377.6 249.5L378.0 249.5L378.4 249.5L378.8 249.5L379.2 249.5L379.6 249.5L380.0 249.5L380.4 249.5L380.8 249.5L381.2 249.5L381.6 249.5L382.0 249.5L382.4 249.5L382.8 249.5L383.2 249.5L383.6 249.5L384.0 249.5L384.4 249.5L384.8 249.5L385.2 249.5L385.6 249.5L386.0 249.5L386.4 249.5L386.8 249.5L387.2 249.5L387.6 249.5L388.0 249.5L388.4 249.5L388.8 249.5L389.2 249.5L389.6 249.5L390.0 249.5L390.4 249.5L390.8 249.5L391.2 249.5L391.6 249.5L392.0 249.5L392.4 249.5L392.8 249.5L393.2 249.5L393.6 249.5L394.0 249.5L394.4 249.5L394.8 249.5L395.2 249.5L395.6 249.5L396.0 249.5L396.4 249.5L396.8 249.5L397.2 249.5L397.6 249.5L398.0 249.5L398.4 249.5L398.8 249.5L399.2 249.5L399.6 249.5L400.0 249.5L400.4 249.5L400.8 249.5L401.2 249.5L401.6 249.5L402.0 249.5L402.4 249.5L402.8 249.5L403.2 249.5L403.6 249.5L404.0 249.5L404.4 249.5L404.8 249.5L405.2 249.5L405.6 249.5L406.0 249.5L406.4 249.5L406.8 249.5L407.2 249.5L407.6 249.5L408.0 249.5L408.4 249.5L408.8 249.5L409.2 249.5L409.6 249.5L410.0 249.5L410.4 249.5L410.8 249.5L411.2 249.5L411.6 249.5L412.0 249.5L412.4 249.5L412.8 249.5L413.2 249.5L413.6 249.5L414.0 249.5L414.4 249.5L414.8 249.5L415.2 249.5L415.6 249.5L416.0 249.5L416.4 249.5L416.8 249.5L417.2 249.5L417.6 249.5L418.0 249.5L418.4 249.5L418.8 249.5L419.2 249.5L419.6 249.5L420.0 249.5L420.4 249.5L420.8 249.5L421.2 249.5L421.6 249.5L422.0 249.5L422.4 249.5L422.8 249.5L423.2 249.5L423.6 249.5L424.0 249.5L424.4 249.5L424.8 249.5L425.2 249.5L425.6 249.5L426.0 249.5L426.4 249.5L426.8 249.5L427.2 249.5L427.6 249.5L428.0 249.5L428.4 249.5L428.8 249.5L429.2 249.5L429.6 249.5L430.0 249.5L430.4 249.5L430.8 249.5L431.2 249.5L431.6 249.5L432.0 249.5L432.4 249.5L432.8 249.5L433.2 249.5L433.6 249.5L434.0 249.5L434.4 249.5L434.8 249.5L435.2 249.5L435.6 249.5L436.0 249.5L436.4 249.5L436.8 249.5L437.2 249.5L437.6 249.5L438.0 249.5L438.4 249.5L438.8 249.5L439.2 249.5L439.6 250.6L440.0 256.9L440.4 256.5L440.8 255.9L441.2 261.8L441.6 264.3L442.0 259.6L442.4 260.4L442.8 260.7L443.2 264.0L443.6 261.0L444.0 262.3L444.4 261.2L444.8 263.8L445.2 273.8L445.6 271.0L446.0 275.5L446.4 278.7L446.8 269.4L447.2 268.5L447.6 274.3L448.0 276.8L448.4 286.5L448.8 288.9L449.2 303.6L449.6 313.5L450.0 321.8L450.4 341.5L450.8 338.5L451.2 351.9L451.6 359.2L452.0 359.7L452.4 358.2L452.8 350.0L453.2 347.8L453.6 342.4L454.0 340.0L454.4 351.4L454.8 346.2L455.2 361.0L455.6 358.9L456.0 363.7L456.4 356.5L456.8 340.3L457.2 337.1L457.6 337.2L458.0 334.4L458.4 333.9L458.8 327.2L459.2 326.1L459.6 322.9L460.0 316.7L460.4 320.7L460.8 313.6L461.2 313.0L461.6 307.5L462.0 305.5L462.4 301.9L462.8 301.9L463.2 303.2L463.6 303.2L464.0 303.2L464.4 304.9L464.8 304.9L465.2 304.9L465.6 304.9L466.0 314.3L466.4 314.3L466.8 314.3L467.2 316.1L467.6 316.1L468.0 316.1L468.4 316.5L468.8 316.5L469.2 316.5L469.6 291.5L470.0 291.5L470.4 291.5L470.8 275.3L471.2 275.3L471.6 275.3L472.0 265.9L472.4 265.9L472.8 265.9L473.2 249.5L473.6 249.5L474.0 249.5L474.4 249.5L474.8 249.5L475.2 249.5L475.6 249.5L476.0 249.5L476.4 249.5L476.8 249.5L477.2 249.5L477.6 249.5L478.0 249.5L478.4 249.5L478.8 249.5L479.2 249.5L479.6 249.5L480.0 249.5L480.4 249.5L480.8 249.5L481.2 249.5L481.6 249.5L482.0 249.5L482.4 249.5L482.8 249.5L483.2 249.5L483.6 249.5L484.0 249.5L484.4 249.5L484.8 249.5L485.2 249.5L485.6 249.5L486.0 249.5L486.4 249.5L486.8 249.5L487.2 249.5L487.6 249.5L488.0 249.5L488.4 249.5L488.8 249.5L489.2 249.5L489.6 249.5L490.0 249.5L490.4 249.5L490.8 249.5L491.2 249.5L491.6 249.5L492.0 249.5L492.4 249.5L492.8 249.5L493.2 249.5L493.6 249.5L494.0 249.5L494.4 249.5L494.8 249.5L495.2 249.5L495.6 249.5L496.0 249.5L496.4 249.5L496.8 249.5L497.2 249.5L497.6 249.5L498.0 249.5L498.4 249.5L498.8 249.5L499.2 249.5L499.6 249.5L500.0 249.5L500.4 249.5L500.8 249.5L501.2 249.5L501.6 249.5L502.0 249.5L502.4 249.5L502.8 249.5L503.2 249.5L503.6 249.5L504.0 249.5L504.4 249.5L504.8 249.5L505.2 249.5L505.6 249.5L506.0 249.5L506.4 249.5L506.8 249.5L507.2 249.5L507.6 249.5L508.0 249.5L508.4 249.5L508.8 249.5L509.2 249.5L509.6 249.5L510.0 249.5L510.4 249.5L510.8 249.5L511.2 249.5L511.6 249.5L512.0 249.5L512.4 249.5L512.8 249.5L513.2 249.5L513.6 249.5L514.0 249.5L514.4 251.7L514.8 251.7L515.2 251.7L515.6 251.7L516.0 251.8L516.4 251.8L516.8 251.8L517.2 251.8L517.6 251.8L518.0 251.8L518.4 252.0L518.8 252.0L519.2 252.0L519.6 252.0L520.0 252.0L520.4 252.0L520.8 252.0L521.2 252.0L521.6 252.0L522.0 249.5L522.4 249.5L522.8 249.5L523.2 249.5L523.6 249.5L524.0 249.5L524.4 249.5L524.8 249.5L525.2 249.5L525.6 249.5L526.0 249.5L526.4 249.5L526.8 249.5L527.2 249.5L527.6 249.5L528.0 249.5L528.4 249.5L528.8 249.5L529.2 249.5L529.6 249.5L530.0 249.5L530.4 249.5L530.8 249.5L531.2 249.5L531.6 249.5L532.0 249.5L532.4 249.5L532.8 249.5L533.2 249.5L533.6 249.5L534.0 249.5L534.4 249.5L534.8 249.5L535.2 249.5L535.6 249.5L536.0 249.5L536.4 249.5L536.8 249.5L537.2 249.5L537.6 249.5L538.0 249.5L538.4 249.5L538.8 249.5L539.2 249.5L539.6 249.5L540.0 249.5L540.4 249.5L540.8 249.5L541.2 249.5L541.6 249.5L542.0 249.5L542.4 249.5L542.8 249.5L543.2 249.5L543.6 249.5L544.0 249.5L544.4 249.5L544.8 249.5L545.2 249.5L545.6 249.5L546.0 249.5L546.4 249.5L546.8 249.5L547.2 249.5L547.6 249.5L548.0 249.5L548.4 249.5L548.8 249.5L549.2 249.5L549.6 249.5L550.0 249.5L550.4 249.5L550.8 249.5L551.2 249.5L551.6 249.5L552.0 249.8L552.4 249.8L552.8 249.8L553.2 250.3L553.6 253.8L554.0 250.3L554.4 250.8L554.8 250.8L555.2 250.8L555.6 250.8L556.0 252.7L556.4 252.7L556.8 252.7L557.2 253.1L557.6 254.1L558.0 256.9L558.4 267.6L558.8 264.9L559.2 271.7L559.6 279.5L560.0 276.9L560.4 267.0L560.8 270.9L561.2 253.6L561.6 263.0L562.0 257.4L562.4 266.2L562.8 256.4L563.2 249.5L563.6 249.5L564.0 249.5L564.4 249.5L564.8 249.5L565.2 249.5L565.6 249.5L566.0 249.5L566.4 249.5L566.8 249.5L567.2 249.5L567.6 249.5L568.0 249.5L568.4 249.5L568.8 249.5L569.2 249.5L569.6 249.5L570.0 249.5L570.4 249.5L570.8 249.5L571.2 249.5L571.6 249.5L572.0 249.5L572.4 249.5L572.8 249.5L573.2 249.5L573.6 249.5L574.0 249.5L574.4 249.5L574.8 249.5L575.2 249.5L575.6 249.5L576.0 249.5L576.4 249.5L576.8 249.5L577.2 249.5L577.6 249.5L578.0 249.5L578.4 249.5L578.8 249.5L579.2 249.5L579.6 249.5L580.0 249.5L580.4 249.5L580.8 249.5L581.2 249.5L581.6 249.5L582.0 249.5L582.4 249.5L582.8 249.5L583.2 249.5L583.6 249.5L584.0 249.5L584.4 249.5L584.8 249.5L585.2 249.5L585.6 249.5L586.0 249.5L586.4 249.5L586.8 249.5L587.2 249.5L587.6 249.5L588.0 249.5L588.4 249.5L588.8 249.5L589.2 249.5L589.6 249.5L590.0 249.5L590.4 249.5L590.8 249.5L591.2 249.5L591.6 249.5L592.0 249.5L592.4 249.5L592.8 249.5L593.2 249.5L593.6 249.5L594.0 249.5L594.4 249.5L594.8 249.5L595.2 249.5L595.6 249.5L596.0 249.5L596.4 249.5L596.8 249.5L597.2 249.5L597.6 249.5L598.0 249.5L598.4 249.5L598.8 249.5L599.2 249.5L599.6 249.5L600.0 249.5L600.4 249.5L600.8 249.5L601.2 249.5L601.6 249.5L602.0 249.5L602.4 249.5L602.8 249.5L603.2 249.5L603.6 249.5L604.0 249.5L604.4 249.5L604.8 249.5L605.2 249.5L605.6 249.5L606.0 249.5L606.4 249.5L606.8 249.5L607.2 249.5L607.6 249.5L608.0 249.5L608.4 249.5L608.8 249.5L609.2 249.5L609.6 249.5L610.0 249.5L610.4 249.5L610.8 249.5L611.2 249.5L611.6 249.5L612.0 249.5L612.4 249.5L612.8 249.5L613.2 249.5L613.6 249.5L614.0 249.5L614.4 249.5L614.8 249.5L615.2 249.5L615.6 249.5L616.0 249.5L616.4 249.5L616.8 249.5L617.2 249.5L617.6 249.5L618.0 249.5L618.4 249.5L618.8 249.5L619.2 249.5L619.6 249.5L620.0 249.5L620.4 249.5L620.8 249.5L621.2 249.5L621.6 249.5L622.0 249.5L622.4 249.5L622.8 249.5L623.2 266.3L623.6 264.1L624.0 264.1L624.4 268.1L624.8 268.1L625.2 268.1L625.6 268.1L626.0 270.6L626.4 270.6L626.8 270.6L627.2 284.3L627.6 284.3L628.0 284.3L628.4 286.9L628.8 286.9L629.2 286.9L629.6 286.7L630.0 286.7L630.4 286.7L630.8 284.4L631.2 284.4L631.6 284.4L632.0 283.7L632.4 283.7L632.8 283.7L633.2 283.5L633.6 283.5L634.0 283.5L634.4 284.2L634.8 284.2L635.2 284.2L635.6 284.2L636.0 285.3L636.4 285.3L636.8 285.3L637.2 284.2L637.6 284.2L638.0 284.2L638.4 249.5L638.8 249.5L639.2 249.5L639.6 249.5L640.0 249.5L640.4 249.5L640.8 249.5L641.2 249.5L641.6 249.5L642.0 249.5L642.4 249.5L642.8 249.5L643.2 249.5L643.6 249.5L644.0 249.5L644.4 249.5L644.8 249.5L645.2 249.5L645.6 249.5L646.0 249.5L646.4 249.5L646.8 249.5L647.2 249.5L647.6 249.5L648.0 249.5L648.4 249.5L648.8 249.5L649.2 249.5L649.6 249.5L650.0 249.5L650.4 249.5L650.8 249.5L651.2 249.5L651.6 249.5L652.0 249.5L652.4 249.5L652.8 249.5L653.2 249.5L653.6 249.5L654.0 249.5L654.4 249.5L654.8 249.5L655.2 249.5L655.2 249.5Z" fill="#5A9BDF"/><path d="M34.0 249.5L34.0 249.5L34.4 249.5L34.8 249.5L35.2 249.5L35.6 249.5L36.0 249.5L36.4 249.5L36.8 249.5L37.2 249.5L37.6 249.5L38.0 249.5L38.4 249.5L38.8 249.5L39.2 249.5L39.6 249.5L40.0 249.5L40.4 249.5L40.8 249.7L41.2 249.5L41.6 249.5L42.0 250.2L42.4 249.5L42.8 256.3L43.2 255.9L43.6 254.7L44.0 260.2L44.4 262.1L44.8 271.0L45.2 274.0L45.6 273.8L46.0 269.4L46.4 260.9L46.8 272.1L47.2 276.8L47.6 275.9L48.0 273.9L48.4 273.7L48.8 279.6L49.2 270.5L49.6 270.5L50.0 270.1L50.4 280.0L50.8 280.2L51.2 272.3L51.6 279.9L52.0 273.1L52.4 273.8L52.8 272.8L53.2 266.1L53.6 266.0L54.0 266.0L54.4 265.9L54.8 268.4L55.2 262.9L55.6 272.3L56.0 278.0L56.4 276.5L56.8 277.0L57.2 262.4L57.6 254.7L58.0 249.5L58.4 249.5L58.8 249.5L59.2 249.5L59.6 249.5L60.0 249.5L60.4 249.5L60.8 249.5L61.2 249.5L61.6 249.5L62.0 249.5L62.4 249.5L62.8 249.5L63.2 249.5L63.6 249.5L64.0 249.5L64.4 249.5L64.8 249.5L65.2 249.5L65.6 249.5L66.0 249.5L66.4 249.5L66.8 249.5L67.2 249.5L67.6 249.5L68.0 249.5L68.4 249.5L68.8 249.5L69.2 249.5L69.6 249.5L70.0 249.5L70.4 249.5L70.8 249.5L71.2 249.5L71.6 249.5L72.0 249.5L72.4 249.5L72.8 249.5L73.2 249.5L73.6 249.5L74.0 249.5L74.4 249.5L74.8 249.5L75.2 249.5L75.6 249.5L76.0 249.5L76.4 249.5L76.8 249.5L77.2 249.5L77.6 249.5L78.0 249.5L78.4 249.5L78.8 249.5L79.2 249.5L79.6 249.5L80.0 253.4L80.4 255.3L80.8 261.0L81.2 265.5L81.6 268.9L82.0 274.2L82.4 279.9L82.8 278.4L83.2 286.9L83.6 291.5L84.0 298.9L84.4 300.1L84.8 306.4L85.2 307.0L85.6 312.7L86.0 307.2L86.4 295.3L86.8 293.2L87.2 288.1L87.6 290.7L88.0 293.1L88.4 294.2L88.8 292.9L89.2 296.5L89.6 293.1L90.0 295.6L90.4 288.5L90.8 282.8L91.2 293.0L91.6 291.8L92.0 293.7L92.4 287.1L92.8 289.3L93.2 283.7L93.6 280.2L94.0 289.6L94.4 277.2L94.8 266.0L95.2 258.6L95.6 249.5L96.0 249.5L96.4 249.5L96.8 249.5L97.2 249.5L97.6 249.5L98.0 249.5L98.4 249.5L98.8 249.5L99.2 249.5L99.6 249.5L100.0 249.5L100.4 249.5L100.8 249.5L101.2 249.5L101.6 249.5L102.0 249.5L102.4 249.5L102.8 249.5L103.2 249.5L103.6 249.5L104.0 249.5L104.4 249.5L104.8 249.5L105.2 249.5L105.6 249.5L106.0 249.5L106.4 249.5L106.8 249.5L107.2 249.5L107.6 249.5L108.0 249.5L108.4 249.5L108.8 249.5L109.2 249.5L109.6 249.5L110.0 249.5L110.4 249.5L110.8 249.5L111.2 249.5L111.6 249.5L112.0 249.5L112.4 249.5L112.8 249.5L113.2 249.5L113.6 249.5L114.0 249.5L114.4 249.5L114.8 249.5L115.2 249.5L115.6 249.5L116.0 249.5L116.4 249.5L116.8 249.5L117.2 249.5L117.6 249.5L118.0 249.5L118.4 249.5L118.8 249.5L119.2 249.5L119.6 249.5L120.0 249.5L120.4 249.5L120.8 249.5L121.2 249.5L121.6 249.5L122.0 249.5L122.4 249.5L122.8 249.5L123.2 249.5L123.6 249.5L124.0 249.5L124.4 249.5L124.8 249.5L125.2 249.5L125.6 249.5L126.0 249.5L126.4 249.5L126.8 249.5L127.2 249.5L127.6 249.5L128.0 249.5L128.4 249.5L128.8 249.5L129.2 249.5L129.6 249.5L130.0 249.5L130.4 249.5L130.8 249.5L131.2 249.5L131.6 249.5L132.0 249.5L132.4 249.5L132.8 249.5L133.2 249.5L133.6 249.5L134.0 249.5L134.4 249.5L134.8 249.5L135.2 249.5L135.6 249.5L136.0 254.4L136.4 262.6L136.8 268.2L137.2 275.9L137.6 277.8L138.0 287.8L138.4 293.7L138.8 294.4L139.2 300.8L139.6 304.2L140.0 309.8L140.4 307.5L140.8 313.5L141.2 309.2L141.6 308.1L142.0 307.0L142.4 316.8L142.8 314.3L143.2 332.2L143.6 329.3L144.0 326.1L144.4 324.3L144.8 321.6L145.2 321.0L145.6 330.4L146.0 322.3L146.4 333.2L146.8 330.9L147.2 343.7L147.6 348.4L148.0 352.7L148.4 344.2L148.8 331.2L149.2 320.1L149.6 303.4L150.0 289.5L150.4 281.6L150.8 281.2L151.2 272.1L151.6 274.0L152.0 257.0L152.4 265.3L152.8 266.9L153.2 263.2L153.6 262.8L154.0 272.7L154.4 256.7L154.8 253.0L155.2 262.4L155.6 266.8L156.0 258.3L156.4 251.6L156.8 249.5L157.2 249.5L157.6 249.5L158.0 249.5L158.4 249.5L158.8 249.5L159.2 249.5L159.6 249.5L160.0 249.5L160.4 249.5L160.8 249.5L161.2 249.5L161.6 249.5L162.0 249.5L162.4 249.5L162.8 249.5L163.2 249.5L163.6 249.5L164.0 249.5L164.4 249.5L164.8 249.5L165.2 249.5L165.6 249.5L166.0 249.5L166.4 249.5L166.8 249.5L167.2 249.5L167.6 249.5L168.0 249.5L168.4 249.5L168.8 249.5L169.2 249.5L169.6 249.5L170.0 249.5L170.4 249.5L170.8 249.5L171.2 249.5L171.6 249.5L172.0 249.5L172.4 249.5L172.8 249.5L173.2 249.5L173.6 249.5L174.0 249.5L174.4 249.5L174.8 249.5L175.2 249.5L175.6 249.5L176.0 249.5L176.4 249.5L176.8 249.5L177.2 249.5L177.6 249.5L178.0 249.5L178.4 249.5L178.8 254.1L179.2 261.3L179.6 267.6L180.0 271.4L180.4 267.3L180.8 262.0L181.2 260.2L181.6 273.0L182.0 264.6L182.4 260.7L182.8 257.4L183.2 249.5L183.6 249.5L184.0 249.5L184.4 249.5L184.8 249.5L185.2 249.5L185.6 249.5L186.0 249.5L186.4 249.5L186.8 249.5L187.2 249.5L187.6 249.5L188.0 249.5L188.4 249.5L188.8 249.5L189.2 249.5L189.6 249.5L190.0 249.5L190.4 249.5L190.8 249.5L191.2 249.5L191.6 249.5L192.0 249.5L192.4 249.5L192.8 249.5L193.2 249.5L193.6 249.5L194.0 249.5L194.4 249.5L194.8 249.5L195.2 249.5L195.6 249.5L196.0 249.5L196.4 249.5L196.8 249.5L197.2 249.5L197.6 249.5L198.0 249.5L198.4 249.5L198.8 249.5L199.2 249.5L199.6 249.5L200.0 249.5L200.4 249.5L200.8 249.5L201.2 249.5L201.6 249.5L202.0 249.5L202.4 249.5L202.8 249.5L203.2 249.5L203.6 249.5L204.0 249.5L204.4 249.5L204.8 249.5L205.2 249.5L205.6 249.5L206.0 249.5L206.4 249.5L206.8 249.5L207.2 249.5L207.6 249.5L208.0 249.5L208.4 249.5L208.8 249.5L209.2 249.5L209.6 249.5L210.0 249.5L210.4 249.5L210.8 249.5L211.2 249.5L211.6 249.5L212.0 249.5L212.4 249.5L212.8 249.5L213.2 249.5L213.6 249.5L214.0 250.6L214.4 264.6L214.8 262.5L215.2 258.6L215.6 255.4L216.0 259.3L216.4 259.3L216.8 259.8L217.2 260.9L217.6 266.3L218.0 268.1L218.4 264.2L218.8 264.7L219.2 259.1L219.6 254.1L220.0 258.8L220.4 257.3L220.8 265.3L221.2 262.5L221.6 267.0L222.0 267.2L222.4 268.0L222.8 255.9L223.2 265.6L223.6 262.7L224.0 258.4L224.4 254.1L224.8 250.9L225.2 252.5L225.6 257.4L226.0 251.9L226.4 254.6L226.8 261.2L227.2 251.5L227.6 256.3L228.0 252.6L228.4 260.0L228.8 259.4L229.2 257.1L229.6 252.8L230.0 249.5L230.4 255.3L230.8 253.7L231.2 262.4L231.6 259.1L232.0 262.3L232.4 264.4L232.8 254.8L233.2 263.4L233.6 259.8L234.0 265.4L234.4 258.5L234.8 259.2L235.2 259.0L235.6 261.7L236.0 267.2L236.4 274.3L236.8 266.9L237.2 283.1L237.6 278.0L238.0 273.0L238.4 272.3L238.8 280.9L239.2 281.5L239.6 287.9L240.0 285.8L240.4 287.7L240.8 300.9L241.2 303.7L241.6 303.8L242.0 299.5L242.4 302.7L242.8 296.1L243.2 307.0L243.6 301.2L244.0 298.6L244.4 305.1L244.8 306.8L245.2 306.3L245.6 304.2L246.0 296.6L246.4 283.5L246.8 286.4L247.2 289.0L247.6 281.6L248.0 279.8L248.4 280.5L248.8 277.6L249.2 277.4L249.6 274.4L250.0 268.6L250.4 268.3L250.8 263.3L251.2 267.3L251.6 261.1L252.0 263.2L252.4 260.8L252.8 256.3L253.2 257.1L253.6 252.0L254.0 249.5L254.4 249.5L254.8 249.5L255.2 249.5L255.6 249.5L256.0 249.5L256.4 249.5L256.8 249.5L257.2 249.5L257.6 249.5L258.0 249.5L258.4 249.5L258.8 249.5L259.2 249.5L259.6 249.5L260.0 249.5L260.4 249.5L260.8 249.5L261.2 249.5L261.6 249.5L262.0 249.5L262.4 249.5L262.8 249.5L263.2 249.5L263.6 249.5L264.0 249.5L264.4 249.5L264.8 249.5L265.2 249.5L265.6 249.5L266.0 249.5L266.4 249.5L266.8 249.5L267.2 249.5L267.6 249.5L268.0 249.5L268.4 249.5L268.8 249.5L269.2 249.5L269.6 249.5L270.0 249.5L270.4 249.5L270.8 249.5L271.2 249.5L271.6 249.5L272.0 249.5L272.4 249.5L272.8 249.5L273.2 249.5L273.6 249.5L274.0 249.5L274.4 249.5L274.8 249.5L275.2 249.5L275.6 249.5L276.0 249.5L276.4 249.5L276.8 249.5L277.2 249.5L277.6 249.5L278.0 249.5L278.4 249.5L278.8 249.5L279.2 249.5L279.6 249.5L280.0 249.5L280.4 249.5L280.8 249.5L281.2 249.5L281.6 249.5L282.0 249.5L282.4 249.5L282.8 249.5L283.2 249.5L283.6 249.5L284.0 249.5L284.4 249.5L284.8 249.5L285.2 249.5L285.6 249.5L286.0 249.5L286.4 249.5L286.8 249.5L287.2 249.5L287.6 249.5L288.0 249.5L288.4 249.5L288.8 249.5L289.2 249.5L289.6 249.5L290.0 249.5L290.4 249.5L290.8 249.5L291.2 249.5L291.6 249.5L292.0 249.5L292.4 249.5L292.8 249.5L293.2 249.5L293.6 249.5L294.0 249.5L294.4 249.5L294.8 249.5L295.2 249.5L295.6 249.5L296.0 249.5L296.4 249.5L296.8 249.5L297.2 249.5L297.6 249.5L298.0 249.5L298.4 249.5L298.8 249.5L299.2 249.5L299.6 255.2L300.0 251.9L300.4 249.5L300.8 249.5L301.2 249.5L301.6 249.5L302.0 249.5L302.4 249.5L302.8 249.5L303.2 249.5L303.6 249.5L304.0 249.5L304.4 249.5L304.8 249.5L305.2 249.5L305.6 249.5L306.0 249.5L306.4 249.5L306.8 249.5L307.2 249.5L307.6 249.5L308.0 249.5L308.4 249.5L308.8 249.5L309.2 249.5L309.6 249.5L310.0 249.5L310.4 249.5L310.8 249.5L311.2 249.5L311.6 249.5L312.0 249.5L312.4 249.5L312.8 249.5L313.2 249.5L313.6 249.5L314.0 249.5L314.4 249.5L314.8 249.5L315.2 249.5L315.6 249.5L316.0 249.5L316.4 249.5L316.8 249.5L317.2 249.5L317.6 249.5L318.0 249.5L318.4 249.5L318.8 249.5L319.2 249.5L319.6 249.5L320.0 249.5L320.4 249.5L320.8 249.5L321.2 249.5L321.6 249.5L322.0 249.5L322.4 249.5L322.8 258.1L323.2 254.4L323.6 254.4L324.0 259.1L324.4 271.9L324.8 266.6L325.2 253.5L325.6 259.4L326.0 253.8L326.4 259.1L326.8 263.2L327.2 257.1L327.6 249.8L328.0 249.5L328.4 249.5L328.8 249.7L329.2 254.0L329.6 258.1L330.0 255.1L330.4 258.7L330.8 262.4L331.2 272.7L331.6 275.1L332.0 281.6L332.4 285.1L332.8 281.8L333.2 278.8L333.6 280.5L334.0 280.0L334.4 290.7L334.8 294.0L335.2 289.7L335.6 295.5L336.0 304.9L336.4 301.7L336.8 303.1L337.2 303.9L337.6 301.2L338.0 291.2L338.4 282.7L338.8 278.1L339.2 286.5L339.6 285.0L340.0 289.0L340.4 295.1L340.8 295.2L341.2 289.0L341.6 296.9L342.0 297.2L342.4 302.0L342.8 300.4L343.2 301.6L343.6 315.0L344.0 320.9L344.4 314.1L344.8 303.5L345.2 293.4L345.6 293.9L346.0 261.7L346.4 257.7L346.8 256.3L347.2 249.5L347.6 249.5L348.0 249.5L348.4 249.5L348.8 249.5L349.2 249.5L349.6 249.5L350.0 249.5L350.4 249.5L350.8 249.5L351.2 249.5L351.6 249.5L352.0 249.5L352.4 249.5L352.8 249.5L353.2 249.5L353.6 249.5L354.0 249.5L354.4 249.5L354.8 249.5L355.2 249.5L355.6 249.5L356.0 249.5L356.4 249.5L356.8 249.5L357.2 266.2L357.6 271.7L358.0 262.8L358.4 260.6L358.8 249.5L359.2 255.1L359.6 255.0L360.0 265.8L360.4 265.6L360.8 285.5L361.2 281.1L361.6 280.4L362.0 279.5L362.4 284.2L362.8 281.4L363.2 292.0L363.6 299.4L364.0 298.9L364.4 322.4L364.8 324.6L365.2 328.6L365.6 330.9L366.0 335.2L366.4 336.7L366.8 334.1L367.2 333.5L367.6 328.4L368.0 329.3L368.4 329.3L368.8 319.9L369.2 318.1L369.6 313.4L370.0 311.0L370.4 302.9L370.8 303.2L371.2 291.1L371.6 268.2L372.0 270.5L372.4 262.0L372.8 253.6L373.2 260.5L373.6 252.3L374.0 249.5L374.4 249.5L374.8 249.5L375.2 249.5L375.6 249.5L376.0 249.5L376.4 249.5L376.8 257.3L377.2 249.5L377.6 249.5L378.0 249.5L378.4 249.5L378.8 249.5L379.2 249.5L379.6 249.5L380.0 249.5L380.4 249.5L380.8 249.5L381.2 249.5L381.6 249.5L382.0 249.5L382.4 249.5L382.8 249.5L383.2 249.5L383.6 251.5L384.0 258.4L384.4 256.6L384.8 270.0L385.2 269.3L385.6 271.5L386.0 276.1L386.4 273.7L386.8 283.1L387.2 275.4L387.6 278.0L388.0 281.3L388.4 277.8L388.8 278.9L389.2 286.3L389.6 284.5L390.0 283.1L390.4 281.3L390.8 282.1L391.2 282.2L391.6 275.4L392.0 278.6L392.4 277.8L392.8 280.0L393.2 286.3L393.6 286.8L394.0 285.5L394.4 280.3L394.8 278.2L395.2 282.8L395.6 281.3L396.0 285.8L396.4 276.0L396.8 281.3L397.2 281.0L397.6 279.8L398.0 281.8L398.4 278.5L398.8 276.0L399.2 267.1L399.6 265.1L400.0 261.2L400.4 264.5L400.8 255.5L401.2 252.1L401.6 259.8L402.0 255.1L402.4 252.1L402.8 249.5L403.2 260.8L403.6 258.6L404.0 263.5L404.4 268.2L404.8 266.1L405.2 275.9L405.6 274.3L406.0 269.1L406.4 262.9L406.8 264.9L407.2 264.6L407.6 262.4L408.0 264.5L408.4 264.8L408.8 266.4L409.2 265.3L409.6 255.8L410.0 266.1L410.4 258.5L410.8 257.6L411.2 255.1L411.6 249.5L412.0 249.5L412.4 249.5L412.8 251.5L413.2 259.1L413.6 261.8L414.0 267.5L414.4 269.3L414.8 268.0L415.2 276.7L415.6 275.7L416.0 272.7L416.4 278.0L416.8 271.4L417.2 270.5L417.6 261.4L418.0 263.4L418.4 252.5L418.8 250.5L419.2 249.5L419.6 249.5L420.0 249.5L420.4 249.5L420.8 249.5L421.2 249.5L421.6 249.5L422.0 253.9L422.4 250.4L422.8 256.9L423.2 257.4L423.6 258.2L424.0 250.6L424.4 260.9L424.8 262.6L425.2 262.4L425.6 256.2L426.0 252.7L426.4 254.3L426.8 249.5L427.2 249.5L427.6 249.5L428.0 249.5L428.4 249.5L428.8 249.5L429.2 249.5L429.6 249.5L430.0 249.5L430.4 249.5L430.8 249.5L431.2 249.5L431.6 249.5L432.0 249.5L432.4 249.5L432.8 249.5L433.2 249.5L433.6 249.5L434.0 249.5L434.4 251.1L434.8 249.8L435.2 249.5L435.6 260.1L436.0 249.5L436.4 249.5L436.8 249.5L437.2 257.4L437.6 251.7L438.0 254.9L438.4 259.4L438.8 250.5L439.2 256.4L439.6 250.4L440.0 256.7L440.4 256.3L440.8 254.8L441.2 260.7L441.6 263.2L442.0 258.0L442.4 258.8L442.8 259.0L443.2 259.4L443.6 256.4L444.0 257.7L444.4 256.3L444.8 258.8L445.2 268.9L445.6 266.0L446.0 270.1L446.4 273.4L446.8 264.0L447.2 261.2L447.6 267.0L448.0 269.5L448.4 278.9L448.8 281.2L449.2 296.0L449.6 305.5L450.0 313.8L450.4 333.5L450.8 311.4L451.2 324.8L451.6 332.1L452.0 329.0L452.4 327.4L452.8 319.3L453.2 316.3L453.6 310.9L454.0 308.5L454.4 315.1L454.8 310.0L455.2 324.8L455.6 322.7L456.0 326.5L456.4 319.3L456.8 303.1L457.2 298.1L457.6 298.2L458.0 295.4L458.4 287.1L458.8 280.4L459.2 279.3L459.6 275.5L460.0 269.3L460.4 273.3L460.8 265.6L461.2 265.0L461.6 259.6L462.0 253.0L462.4 249.5L462.8 249.5L463.2 249.5L463.6 249.5L464.0 249.5L464.4 249.5L464.8 249.5L465.2 249.5L465.6 249.5L466.0 249.5L466.4 249.5L466.8 249.5L467.2 249.5L467.6 249.5L468.0 249.5L468.4 249.5L468.8 249.5L469.2 249.5L469.6 249.5L470.0 249.5L470.4 249.5L470.8 249.5L471.2 249.5L471.6 249.5L472.0 249.5L472.4 249.5L472.8 249.5L473.2 249.5L473.6 249.5L474.0 249.5L474.4 249.5L474.8 249.5L475.2 249.5L475.6 249.5L476.0 249.5L476.4 249.5L476.8 249.5L477.2 272.9L477.6 271.2L478.0 273.0L478.4 282.2L478.8 286.0L479.2 280.6L479.6 284.5L480.0 278.1L480.4 276.1L480.8 309.5L481.2 316.6L481.6 307.9L482.0 301.8L482.4 308.0L482.8 309.8L483.2 307.8L483.6 303.2L484.0 304.5L484.4 293.7L484.8 295.0L485.2 291.0L485.6 298.3L486.0 293.8L486.4 294.6L486.8 295.4L487.2 303.6L487.6 305.8L488.0 309.8L488.4 287.7L488.8 278.7L489.2 269.6L489.6 262.5L490.0 260.8L490.4 257.9L490.8 249.5L491.2 249.5L491.6 249.5L492.0 250.1L492.4 254.8L492.8 263.1L493.2 268.1L493.6 274.9L494.0 282.9L494.4 282.1L494.8 292.6L495.2 294.6L495.6 299.2L496.0 292.6L496.4 298.2L496.8 299.1L497.2 289.4L497.6 302.3L498.0 297.2L498.4 288.4L498.8 286.9L499.2 279.7L499.6 274.9L500.0 265.7L500.4 267.4L500.8 261.0L501.2 266.7L501.6 268.3L502.0 273.4L502.4 276.6L502.8 277.0L503.2 261.7L503.6 264.6L504.0 259.8L504.4 270.4L504.8 264.3L505.2 267.8L505.6 278.3L506.0 266.7L506.4 256.5L506.8 251.9L507.2 249.5L507.6 249.5L508.0 249.5L508.4 249.5L508.8 249.5L509.2 249.5L509.6 249.5L510.0 249.5L510.4 249.5L510.8 249.5L511.2 249.5L511.6 249.5L512.0 249.5L512.4 249.5L512.8 249.5L513.2 249.5L513.6 249.5L514.0 249.5L514.4 249.5L514.8 249.5L515.2 249.5L515.6 249.5L516.0 249.5L516.4 249.5L516.8 249.5L517.2 249.5L517.6 249.5L518.0 249.5L518.4 249.5L518.8 249.5L519.2 249.5L519.6 249.5L520.0 249.5L520.4 249.5L520.8 249.5L521.2 249.5L521.6 249.5L522.0 249.5L522.4 249.5L522.8 249.5L523.2 249.5L523.6 249.5L524.0 249.5L524.4 249.5L524.8 249.5L525.2 249.5L525.6 249.5L526.0 249.5L526.4 249.5L526.8 249.5L527.2 249.5L527.6 249.5L528.0 249.5L528.4 249.5L528.8 249.5L529.2 249.5L529.6 249.5L530.0 249.5L530.4 249.5L530.8 249.5L531.2 249.5L531.6 249.5L532.0 249.5L532.4 249.5L532.8 249.5L533.2 249.5L533.6 249.5L534.0 249.5L534.4 249.5L534.8 249.5L535.2 249.5L535.6 249.5L536.0 249.5L536.4 249.5L536.8 249.5L537.2 249.5L537.6 249.5L538.0 249.5L538.4 249.5L538.8 249.5L539.2 249.5L539.6 249.5L540.0 249.5L540.4 249.5L540.8 249.5L541.2 249.5L541.6 249.5L542.0 249.5L542.4 249.5L542.8 249.5L543.2 249.5L543.6 249.5L544.0 249.5L544.4 249.5L544.8 249.5L545.2 249.5L545.6 249.5L546.0 249.5L546.4 249.5L546.8 249.5L547.2 249.5L547.6 249.5L548.0 249.5L548.4 249.5L548.8 249.5L549.2 249.5L549.6 249.5L550.0 249.5L550.4 249.5L550.8 249.5L551.2 249.5L551.6 249.7L552.0 249.5L552.4 249.5L552.8 249.5L553.2 249.5L553.6 253.1L554.0 249.5L554.4 249.5L554.8 249.5L555.2 249.5L555.6 249.5L556.0 249.5L556.4 249.5L556.8 249.5L557.2 249.9L557.6 250.9L558.0 253.7L558.4 264.4L558.8 261.7L559.2 268.5L559.6 277.1L560.0 274.5L560.4 264.6L560.8 269.0L561.2 251.7L561.6 261.1L562.0 256.1L562.4 264.8L562.8 255.1L563.2 257.4L563.6 255.4L564.0 255.4L564.4 258.6L564.8 249.5L565.2 250.1L565.6 253.8L566.0 249.5L566.4 254.0L566.8 249.5L567.2 249.5L567.6 249.5L568.0 249.5L568.4 249.5L568.8 249.5L569.2 249.5L569.6 249.5L570.0 249.5L570.4 249.5L570.8 253.7L571.2 260.8L571.6 249.5L572.0 249.5L572.4 249.5L572.8 249.5L573.2 249.5L573.6 249.5L574.0 249.5L574.4 249.5L574.8 249.5L575.2 249.5L575.6 249.5L576.0 249.5L576.4 249.5L576.8 249.5L577.2 249.5L577.6 249.5L578.0 249.5L578.4 249.5L578.8 249.5L579.2 249.5L579.6 249.5L580.0 249.5L580.4 249.5L580.8 249.5L581.2 249.5L581.6 249.5L582.0 249.5L582.4 249.5L582.8 249.5L583.2 249.5L583.6 249.5L584.0 249.5L584.4 249.5L584.8 249.5L585.2 249.5L585.6 249.5L586.0 249.5L586.4 249.5L586.8 249.5L587.2 249.5L587.6 249.5L588.0 249.5L588.4 249.5L588.8 249.5L589.2 249.5L589.6 249.5L590.0 249.5L590.4 249.5L590.8 249.5L591.2 252.4L591.6 249.5L592.0 249.5L592.4 254.2L592.8 249.5L593.2 249.5L593.6 250.4L594.0 249.5L594.4 252.4L594.8 252.8L595.2 249.9L595.6 249.5L596.0 251.5L596.4 249.5L596.8 249.5L597.2 249.8L597.6 249.5L598.0 249.5L598.4 249.5L598.8 249.5L599.2 256.7L599.6 266.3L600.0 263.6L600.4 267.1L600.8 285.2L601.2 289.3L601.6 293.2L602.0 291.7L602.4 297.0L602.8 305.0L603.2 309.5L603.6 310.1L604.0 305.0L604.4 302.4L604.8 291.7L605.2 290.2L605.6 285.3L606.0 287.6L606.4 278.0L606.8 280.0L607.2 279.9L607.6 280.2L608.0 280.4L608.4 263.0L608.8 264.0L609.2 260.0L609.6 258.3L610.0 262.1L610.4 263.1L610.8 261.2L611.2 267.5L611.6 269.5L612.0 266.6L612.4 264.7L612.8 257.1L613.2 258.5L613.6 256.5L614.0 257.4L614.4 249.5L614.8 249.5L615.2 249.5L615.6 249.5L616.0 249.5L616.4 249.5L616.8 249.5L617.2 249.5L617.6 249.5L618.0 249.5L618.4 249.5L618.8 249.5L619.2 249.5L619.6 249.5L620.0 249.5L620.4 249.5L620.8 249.5L621.2 249.5L621.6 249.5L622.0 257.4L622.4 277.1L622.8 297.7L623.2 251.7L623.6 249.5L624.0 249.5L624.4 249.5L624.8 249.5L625.2 249.5L625.6 249.5L626.0 249.5L626.4 249.5L626.8 249.5L627.2 249.5L627.6 249.5L628.0 249.5L628.4 249.5L628.8 249.5L629.2 249.5L629.6 249.5L630.0 249.5L630.4 249.5L630.8 249.5L631.2 249.5L631.6 249.5L632.0 249.5L632.4 249.5L632.8 249.5L633.2 249.5L633.6 249.5L634.0 249.5L634.4 249.5L634.8 249.5L635.2 249.5L635.6 249.5L636.0 249.5L636.4 249.5L636.8 249.5L637.2 249.5L637.6 249.5L638.0 249.5L638.4 249.5L638.8 249.5L639.2 249.5L639.6 249.5L640.0 249.5L640.4 249.5L640.8 249.5L641.2 249.5L641.6 249.5L642.0 267.8L642.4 265.8L642.8 271.0L643.2 282.7L643.6 279.1L644.0 280.0L644.4 282.8L644.8 273.8L645.2 272.1L645.6 259.1L646.0 290.6L646.4 299.7L646.8 302.0L647.2 310.8L647.6 314.5L648.0 322.2L648.4 327.7L648.8 334.7L649.2 336.7L649.6 364.9L650.0 365.6L650.4 377.4L650.8 379.1L651.2 380.7L651.6 381.3L652.0 378.2L652.4 387.9L652.8 382.5L653.2 355.9L653.6 357.7L654.0 355.9L654.4 357.3L654.8 361.7L655.2 376.9L655.2 249.5Z" fill="#FFC000"/><path d="M34.0 204.3L34.4 194.6L34.8 202.6L35.2 187.3L35.6 184.0L36.0 184.3L36.4 169.3L36.8 164.0L37.2 168.0L37.6 185.2L38.0 182.0L38.4 193.6L38.8 199.5L39.2 197.5L39.6 205.7L40.0 210.4L40.4 216.1L40.8 228.8L41.2 219.2L41.6 228.1L42.0 230.6L42.4 229.0L42.8 236.7L43.2 236.5L43.6 235.3L44.0 240.8L44.4 242.9L44.8 251.8L45.2 254.8L45.6 254.6L46.0 251.7L46.4 243.2L46.8 254.4L47.2 259.3L47.6 258.4L48.0 256.4L48.4 256.5L48.8 262.3L49.2 253.3L49.6 256.0L50.0 255.7L50.4 265.6L50.8 266.4L51.2 258.6L51.6 266.3L52.0 260.1L52.4 260.9L52.8 259.9L53.2 256.0L53.6 256.0L54.0 256.0L54.4 256.4L54.8 259.0L55.2 253.5L55.6 263.0L56.0 268.9L56.4 267.4L56.8 268.0L57.2 256.8L57.6 249.2L58.0 235.9L58.4 235.6L58.8 235.6L59.2 222.6L59.6 209.1L60.0 196.3L60.4 194.3L60.8 194.2L61.2 187.2L61.6 186.5L62.0 182.0L62.4 178.9L62.8 178.5L63.2 168.6L63.6 164.7L64.0 161.5L64.4 157.8L64.8 148.2L65.2 149.3L65.6 147.0L66.0 140.8L66.4 148.3L66.8 145.1L67.2 146.1L67.6 140.9L68.0 132.7L68.4 124.0L68.8 127.7L69.2 116.4L69.6 113.7L70.0 113.2L70.4 109.0L70.8 114.7L71.2 122.3L71.6 124.5L72.0 121.0L72.4 112.5L72.8 115.1L73.2 113.8L73.6 125.3L74.0 135.3L74.4 142.8L74.8 144.8L75.2 165.4L75.6 183.9L76.0 186.1L76.4 185.8L76.8 189.4L77.2 192.8L77.6 194.5L78.0 204.7L78.4 202.2L78.8 209.5L79.2 203.5L79.6 209.3L80.0 214.8L80.4 216.7L80.8 220.6L81.2 225.1L81.6 228.5L82.0 231.9L82.4 237.7L82.8 236.2L83.2 235.1L83.6 239.7L84.0 247.1L84.4 247.0L84.8 253.4L85.2 253.9L85.6 259.7L86.0 252.9L86.4 241.0L86.8 239.0L87.2 231.1L87.6 233.8L88.0 236.1L88.4 237.3L88.8 236.0L89.2 239.6L89.6 236.2L90.0 238.7L90.4 231.6L90.8 233.8L91.2 244.1L91.6 242.8L92.0 246.7L92.4 240.2L92.8 242.4L93.2 237.6L93.6 234.2L94.0 243.6L94.4 237.7L94.8 226.5L95.2 219.1L95.6 206.4L96.0 199.7L96.4 197.4L96.8 192.0L97.2 192.0L97.6 186.5L98.0 184.1L98.4 180.6L98.8 183.6L99.2 178.4L99.6 182.0L100.0 165.9L100.4 173.6L100.8 173.1L101.2 172.2L101.6 173.2L102.0 181.4L102.4 187.0L102.8 196.7L103.2 205.0L103.6 209.5L104.0 211.8L104.4 210.4L104.8 215.9L105.2 211.7L105.6 216.6L106.0 203.2L106.4 199.9L106.8 191.4L107.2 199.3L107.6 180.1L108.0 166.0L108.4 174.1L108.8 178.4L109.2 173.1L109.6 170.2L110.0 169.5L110.4 167.8L110.8 166.0L111.2 162.7L111.6 160.0L112.0 162.4L112.4 161.6L112.8 155.2L113.2 167.6L113.6 164.5L114.0 171.7L114.4 171.6L114.8 173.4L115.2 173.2L115.6 177.0L116.0 175.2L116.4 165.5L116.8 158.5L117.2 157.5L117.6 155.7L118.0 161.0L118.4 162.1L118.8 163.3L119.2 168.7L119.6 166.6L120.0 170.7L120.4 172.0L120.8 177.1L121.2 177.0L121.6 173.5L122.0 170.7L122.4 169.3L122.8 170.2L123.2 168.5L123.6 165.3L124.0 171.2L124.4 160.3L124.8 162.0L125.2 169.4L125.6 177.3L126.0 177.0L126.4 183.5L126.8 179.8L127.2 186.1L127.6 194.8L128.0 189.8L128.4 195.1L128.8 196.6L129.2 199.2L129.6 197.7L130.0 192.6L130.4 187.6L130.8 187.2L131.2 185.5L131.6 184.1L132.0 178.1L132.4 172.4L132.8 165.9L133.2 160.6L133.6 167.6L134.0 161.4L134.4 159.1L134.8 170.5L135.2 193.6L135.6 210.7L136.0 218.7L136.4 226.9L136.8 232.4L137.2 238.6L137.6 240.5L138.0 250.4L138.4 254.6L138.8 255.3L139.2 261.7L139.6 256.6L140.0 262.3L140.4 259.9L140.8 264.5L141.2 260.1L141.6 259.1L142.0 256.6L142.4 266.4L142.8 263.9L143.2 274.1L143.6 271.3L144.0 268.1L144.4 264.8L144.8 262.2L145.2 261.6L145.6 271.0L146.0 261.9L146.4 272.8L146.8 270.5L147.2 281.8L147.6 286.5L148.0 290.8L148.4 282.3L148.8 269.3L149.2 258.2L149.6 240.9L150.0 227.0L150.4 219.1L150.8 216.1L151.2 207.0L151.6 208.9L152.0 191.5L152.4 199.9L152.8 201.5L153.2 202.0L153.6 201.6L154.0 211.5L154.4 210.9L154.8 207.2L155.2 216.5L155.6 220.9L156.0 214.5L156.4 207.8L156.8 204.6L157.2 205.2L157.6 200.5L158.0 198.2L158.4 194.1L158.8 197.2L159.2 192.6L159.6 182.5L160.0 177.7L160.4 182.7L160.8 169.0L161.2 169.2L161.6 175.4L162.0 178.0L162.4 172.9L162.8 166.2L163.2 161.6L163.6 175.7L164.0 167.1L164.4 170.0L164.8 181.1L165.2 181.4L165.6 172.3L166.0 168.7L166.4 166.1L166.8 169.3L167.2 175.9L167.6 186.8L168.0 182.2L168.4 186.7L168.8 193.3L169.2 196.6L169.6 200.2L170.0 205.1L170.4 208.0L170.8 202.9L171.2 208.4L171.6 198.0L172.0 204.5L172.4 202.3L172.8 207.3L173.2 204.6L173.6 206.6L174.0 205.7L174.4 205.3L174.8 204.7L175.2 200.0L175.6 204.1L176.0 214.1L176.4 217.6L176.8 231.3L177.2 232.8L177.6 239.5L178.0 244.0L178.4 239.8L178.8 253.4L179.2 260.6L179.6 266.6L180.0 270.4L180.4 266.4L180.8 256.5L181.2 254.7L181.6 267.5L182.0 258.0L182.4 254.1L182.8 250.8L183.2 237.8L183.6 234.6L184.0 224.0L184.4 223.9L184.8 218.9L185.2 207.9L185.6 208.7L186.0 202.4L186.4 200.6L186.8 199.9L187.2 196.1L187.6 198.6L188.0 211.9L188.4 218.4L188.8 209.2L189.2 220.9L189.6 222.5L190.0 219.9L190.4 225.5L190.8 221.0L191.2 212.0L191.6 205.8L192.0 205.3L192.4 194.9L192.8 195.2L193.2 188.8L193.6 180.3L194.0 170.1L194.4 153.5L194.8 158.5L195.2 168.8L195.6 169.7L196.0 175.2L196.4 180.7L196.8 178.7L197.2 171.4L197.6 168.4L198.0 161.3L198.4 156.2L198.8 157.1L199.2 160.8L199.6 173.6L200.0 180.3L200.4 186.4L200.8 192.2L201.2 205.3L201.6 200.5L202.0 206.3L202.4 205.1L202.8 215.9L203.2 217.9L203.6 225.3L204.0 226.1L204.4 227.0L204.8 225.7L205.2 222.5L205.6 222.7L206.0 215.8L206.4 216.1L206.8 214.7L207.2 218.9L207.6 215.9L208.0 216.0L208.4 225.8L208.8 221.4L209.2 224.7L209.6 224.1L210.0 221.5L210.4 222.5L210.8 212.9L211.2 205.1L211.6 208.4L212.0 206.5L212.4 210.2L212.8 214.3L213.2 217.5L213.6 224.0L214.0 226.1L214.4 231.7L214.8 229.6L215.2 225.8L215.6 222.6L216.0 226.4L216.4 226.4L216.8 226.9L217.2 227.9L217.6 233.3L218.0 235.2L218.4 230.9L218.8 231.5L219.2 225.8L219.6 220.7L220.0 225.4L220.4 224.0L220.8 231.9L221.2 229.1L221.6 233.6L222.0 234.9L222.4 235.7L222.8 223.6L223.2 233.9L223.6 231.0L224.0 226.8L224.4 222.9L224.8 219.8L225.2 221.4L225.6 226.3L226.0 224.5L226.4 227.2L226.8 233.8L227.2 224.8L227.6 229.7L228.0 226.0L228.4 234.2L228.8 233.6L229.2 231.3L229.6 231.5L230.0 225.3L230.4 234.0L230.8 233.2L231.2 241.9L231.6 238.6L232.0 242.1L232.4 244.2L232.8 234.7L233.2 241.9L233.6 238.3L234.0 243.9L234.4 236.5L234.8 237.3L235.2 237.1L235.6 239.8L236.0 243.0L236.4 250.1L236.8 242.7L237.2 241.9L237.6 236.7L238.0 231.8L238.4 228.6L238.8 237.1L239.2 237.7L239.6 241.6L240.0 239.6L240.4 241.5L240.8 246.7L241.2 249.5L241.6 249.6L242.0 244.2L242.4 247.5L242.8 240.9L243.2 249.6L243.6 243.8L244.0 241.2L244.4 237.1L244.8 238.8L245.2 238.4L245.6 236.3L246.0 227.9L246.4 214.7L246.8 217.6L247.2 219.7L247.6 212.4L248.0 210.5L248.4 207.4L248.8 204.5L249.2 204.3L249.6 200.4L250.0 194.6L250.4 194.3L250.8 189.2L251.2 193.2L251.6 187.0L252.0 191.2L252.4 188.8L252.8 184.3L253.2 186.2L253.6 181.1L254.0 176.9L254.4 172.8L254.8 171.6L255.2 168.4L255.6 170.4L256.0 171.0L256.4 154.8L256.8 157.9L257.2 157.3L257.6 165.7L258.0 172.6L258.4 167.9L258.8 166.3L259.2 162.1L259.6 162.5L260.0 154.5L260.4 152.6L260.8 154.7L261.2 160.5L261.6 164.3L262.0 168.4L262.4 173.6L262.8 167.7L263.2 178.7L263.6 175.9L264.0 178.4L264.4 189.0L264.8 181.1L265.2 186.5L265.6 188.0L266.0 194.2L266.4 201.0L266.8 198.6L267.2 199.1L267.6 196.2L268.0 195.7L268.4 201.8L268.8 192.9L269.2 191.1L269.6 187.5L270.0 186.2L270.4 188.5L270.8 181.5L271.2 184.3L271.6 172.6L272.0 183.2L272.4 186.5L272.8 182.5L273.2 175.7L273.6 179.2L274.0 185.3L274.4 175.5L274.8 183.2L275.2 190.4L275.6 190.5L276.0 196.8L276.4 201.2L276.8 195.3L277.2 200.9L277.6 190.9L278.0 177.1L278.4 171.6L278.8 170.1L279.2 175.4L279.6 163.9L280.0 163.2L280.4 148.4L280.8 143.8L281.2 136.5L281.6 134.2L282.0 145.4L282.4 150.5L282.8 149.1L283.2 152.6L283.6 155.5L284.0 149.0L284.4 156.6L284.8 156.8L285.2 162.2L285.6 171.9L286.0 171.3L286.4 173.2L286.8 173.8L287.2 177.2L287.6 180.9L288.0 180.3L288.4 180.8L288.8 181.1L289.2 180.1L289.6 170.4L290.0 171.8L290.4 173.0L290.8 164.4L291.2 155.0L291.6 152.2L292.0 146.4L292.4 139.0L292.8 147.6L293.2 154.0L293.6 157.9L294.0 167.5L294.4 170.3L294.8 167.6L295.2 183.6L295.6 187.4L296.0 184.4L296.4 186.8L296.8 191.3L297.2 199.0L297.6 206.8L298.0 219.8L298.4 232.4L298.8 232.4L299.2 235.7L299.6 242.0L300.0 238.7L300.4 222.3L300.8 221.5L301.2 207.5L301.6 207.9L302.0 198.4L302.4 190.0L302.8 186.4L303.2 177.4L303.6 188.1L304.0 192.7L304.4 199.8L304.8 198.4L305.2 203.0L305.6 200.3L306.0 199.9L306.4 204.7L306.8 209.1L307.2 200.8L307.6 196.4L308.0 198.8L308.4 204.8L308.8 203.5L309.2 202.4L309.6 214.8L310.0 202.0L310.4 204.1L310.8 204.4L311.2 205.5L311.6 202.2L312.0 197.4L312.4 201.6L312.8 189.1L313.2 187.1L313.6 173.2L314.0 166.8L314.4 175.9L314.8 180.6L315.2 182.2L315.6 190.9L316.0 189.2L316.4 193.6L316.8 197.6L317.2 196.5L317.6 202.1L318.0 201.6L318.4 201.9L318.8 212.9L319.2 213.5L319.6 208.3L320.0 215.7L320.4 214.2L320.8 219.1L321.2 220.2L321.6 217.8L322.0 210.8L322.4 219.5L322.8 229.1L323.2 226.7L323.6 226.7L324.0 231.4L324.4 244.2L324.8 238.9L325.2 225.9L325.6 231.8L326.0 226.3L326.4 231.6L326.8 235.6L327.2 230.8L327.6 223.5L328.0 218.3L328.4 222.1L328.8 224.0L329.2 228.3L329.6 233.4L330.0 230.4L330.4 234.0L330.8 242.3L331.2 252.5L331.6 254.9L332.0 262.0L332.4 265.6L332.8 262.3L333.2 259.4L333.6 261.1L334.0 260.6L334.4 269.6L334.8 272.9L335.2 268.5L335.6 274.3L336.0 283.3L336.4 280.0L336.8 281.4L337.2 283.0L337.6 280.2L338.0 270.2L338.4 269.0L338.8 264.3L339.2 272.7L339.6 272.6L340.0 276.5L340.4 282.6L340.8 284.2L341.2 277.9L341.6 285.8L342.0 295.9L342.4 300.7L342.8 299.1L343.2 302.3L343.6 315.7L344.0 321.6L344.4 318.0L344.8 307.3L345.2 297.3L345.6 297.8L346.0 288.7L346.4 284.6L346.8 283.3L347.2 280.1L347.6 271.6L348.0 271.9L348.4 269.1L348.8 263.4L349.2 266.7L349.6 260.0L350.0 258.1L350.4 252.8L350.8 245.1L351.2 240.3L351.6 242.4L352.0 239.8L352.4 251.6L352.8 262.1L353.2 272.8L353.6 268.2L354.0 266.9L354.4 267.7L354.8 270.0L355.2 278.4L355.6 275.9L356.0 284.1L356.4 280.1L356.8 281.1L357.2 293.8L357.6 299.3L358.0 290.4L358.4 282.8L358.8 271.0L359.2 277.3L359.6 271.7L360.0 282.5L360.4 282.3L360.8 280.3L361.2 276.0L361.6 275.3L362.0 272.4L362.4 277.1L362.8 274.3L363.2 281.8L363.6 289.1L364.0 288.7L364.4 289.1L364.8 291.3L365.2 295.3L365.6 297.6L366.0 299.2L366.4 300.8L366.8 298.2L367.2 296.6L367.6 291.4L368.0 292.3L368.4 285.7L368.8 276.4L369.2 274.6L369.6 268.5L370.0 266.1L370.4 258.0L370.8 257.2L371.2 245.1L371.6 222.3L372.0 221.0L372.4 212.5L372.8 204.1L373.2 210.6L373.6 202.4L374.0 187.6L374.4 186.8L374.8 182.3L375.2 186.5L375.6 183.5L376.0 188.9L376.4 194.3L376.8 204.7L377.2 195.2L377.6 190.1L378.0 190.1L378.4 184.0L378.8 176.9L379.2 165.4L379.6 158.9L380.0 156.8L380.4 163.6L380.8 170.5L381.2 166.6L381.6 168.8L382.0 171.8L382.4 171.6L382.8 181.5L383.2 186.8L383.6 192.1L384.0 198.9L384.4 196.7L384.8 210.1L385.2 209.4L385.6 211.6L386.0 215.7L386.4 213.3L386.8 222.7L387.2 214.2L387.6 216.8L388.0 220.1L388.4 217.1L388.8 218.1L389.2 225.5L389.6 224.2L390.0 222.8L390.4 221.0L390.8 223.4L391.2 223.4L391.6 216.7L392.0 220.3L392.4 219.5L392.8 221.7L393.2 230.4L393.6 230.9L394.0 229.6L394.4 232.2L394.8 230.1L395.2 234.7L395.6 233.2L396.0 238.3L396.4 228.5L396.8 233.9L397.2 234.3L397.6 233.0L398.0 235.1L398.4 235.9L398.8 233.4L399.2 224.5L399.6 223.1L400.0 219.2L400.4 222.5L400.8 213.8L401.2 210.5L401.6 218.1L402.0 214.4L402.4 211.5L402.8 208.6L403.2 220.0L403.6 217.8L404.0 222.7L404.4 227.0L404.8 225.0L405.2 234.7L405.6 233.1L406.0 229.7L406.4 223.5L406.8 225.6L407.2 226.1L407.6 224.0L408.0 226.0L408.4 226.8L408.8 228.4L409.2 227.3L409.6 218.8L410.0 229.0L410.4 221.4L410.8 220.1L411.2 217.5L411.6 209.2L412.0 209.0L412.4 207.3L412.8 213.5L413.2 219.3L413.6 222.0L414.0 227.8L414.4 229.3L414.8 228.0L415.2 236.7L415.6 235.6L416.0 232.6L416.4 237.9L416.8 231.3L417.2 232.1L417.6 222.9L418.0 225.0L418.4 214.4L418.8 212.4L419.2 209.3L419.6 202.5L420.0 204.5L420.4 207.1L420.8 200.6L421.2 209.0L421.6 208.2L422.0 213.7L422.4 210.2L422.8 216.8L423.2 217.0L423.6 217.7L424.0 210.2L424.4 219.6L424.8 221.4L425.2 221.1L425.6 214.9L426.0 211.5L426.4 213.1L426.8 207.1L427.2 207.8L427.6 203.4L428.0 201.2L428.4 201.4L428.8 195.2L429.2 193.2L429.6 188.9L430.0 191.0L430.4 190.5L430.8 187.8L431.2 188.3L431.6 184.2L432.0 193.8L432.4 200.6L432.8 202.6L433.2 204.0L433.6 204.6L434.0 207.9L434.4 209.1L434.8 207.8L435.2 206.9L435.6 218.0L436.0 220.2L436.4 214.7L436.8 224.7L437.2 238.4L437.6 232.7L438.0 235.9L438.4 243.5L438.8 234.6L439.2 240.4L439.6 245.7L440.0 251.9L440.4 251.4L440.8 250.7L441.2 256.5L441.6 258.9L442.0 254.2L442.4 254.9L442.8 255.0L443.2 258.3L443.6 255.2L444.0 256.4L444.4 255.3L444.8 257.7L445.2 267.7L445.6 264.8L446.0 269.2L446.4 272.3L446.8 262.9L447.2 261.9L447.6 267.7L448.0 270.1L448.4 279.7L448.8 282.0L449.2 296.6L449.6 306.5L450.0 314.6L450.4 334.3L450.8 331.2L451.2 344.6L451.6 351.8L452.0 352.4L452.4 350.8L452.8 342.6L453.2 340.3L453.6 334.9L454.0 332.5L454.4 343.8L454.8 338.6L455.2 353.4L455.6 351.3L456.0 356.1L456.4 348.8L456.8 332.7L457.2 329.5L457.6 329.8L458.0 327.1L458.4 326.7L458.8 320.1L459.2 319.2L459.6 316.1L460.0 310.0L460.4 314.0L460.8 307.1L461.2 306.6L461.6 301.3L462.0 299.3L462.4 290.2L462.8 270.7L463.2 252.7L463.6 242.7L464.0 223.9L464.4 213.8L464.8 208.2L465.2 199.9L465.6 180.3L466.0 156.7L466.4 145.7L466.8 131.0L467.2 157.4L467.6 184.2L468.0 182.9L468.4 172.9L468.8 175.6L469.2 169.3L469.6 166.5L470.0 156.4L470.4 150.7L470.8 95.0L471.2 123.2L471.6 141.0L472.0 141.4L472.4 146.7L472.8 161.7L473.2 161.7L473.6 166.3L474.0 171.7L474.4 171.6L474.8 188.5L475.2 191.6L475.6 210.3L476.0 217.4L476.4 219.3L476.8 221.4L477.2 225.3L477.6 223.6L478.0 225.5L478.4 225.1L478.8 228.9L479.2 223.4L479.6 223.8L480.0 217.4L480.4 215.3L480.8 216.7L481.2 223.8L481.6 215.2L482.0 203.3L482.4 209.4L482.8 211.3L483.2 207.3L483.6 202.7L484.0 204.0L484.4 202.1L484.8 203.4L485.2 199.5L485.6 206.7L486.0 206.1L486.4 206.9L486.8 207.7L487.2 215.0L487.6 217.3L488.0 221.2L488.4 211.5L488.8 202.5L489.2 193.4L489.6 188.8L490.0 187.1L490.4 184.2L490.8 171.2L491.2 175.5L491.6 175.3L492.0 194.1L492.4 198.9L492.8 207.1L493.2 213.5L493.6 220.3L494.0 228.3L494.4 228.6L494.8 239.1L495.2 241.0L495.6 245.7L496.0 244.5L496.4 250.1L496.8 251.0L497.2 242.3L497.6 255.1L498.0 250.1L498.4 242.9L498.8 241.4L499.2 234.2L499.6 239.6L500.0 230.4L500.4 232.1L500.8 227.8L501.2 233.5L501.6 235.0L502.0 242.2L502.4 245.4L502.8 245.8L503.2 239.1L503.6 242.1L504.0 237.2L504.4 248.1L504.8 242.0L505.2 245.5L505.6 256.0L506.0 244.4L506.4 234.1L506.8 229.5L507.2 206.0L507.6 198.3L508.0 193.9L508.4 191.4L508.8 187.5L509.2 194.7L509.6 199.5L510.0 207.8L510.4 207.2L510.8 199.2L511.2 204.2L511.6 204.1L512.0 205.5L512.4 203.7L512.8 216.2L513.2 210.7L513.6 210.2L514.0 209.7L514.4 217.9L514.8 220.4L515.2 219.2L515.6 217.8L516.0 211.6L516.4 213.3L516.8 212.6L517.2 212.4L517.6 202.8L518.0 195.3L518.4 187.4L518.8 187.7L519.2 186.3L519.6 187.8L520.0 195.9L520.4 195.8L520.8 191.7L521.2 189.7L521.6 192.8L522.0 191.1L522.4 193.6L522.8 194.2L523.2 199.4L523.6 200.1L524.0 193.3L524.4 194.3L524.8 187.0L525.2 185.8L525.6 174.8L526.0 182.5L526.4 168.3L526.8 169.8L527.2 176.6L527.6 180.6L528.0 183.6L528.4 180.6L528.8 182.0L529.2 191.7L529.6 187.8L530.0 197.3L530.4 196.0L530.8 199.4L531.2 205.2L531.6 200.3L532.0 203.9L532.4 196.9L532.8 202.9L533.2 207.4L533.6 207.3L534.0 201.7L534.4 201.0L534.8 198.4L535.2 198.9L535.6 190.1L536.0 196.7L536.4 201.0L536.8 199.1L537.2 204.3L537.6 210.0L538.0 201.3L538.4 201.8L538.8 200.3L539.2 199.3L539.6 209.3L540.0 210.7L540.4 216.1L540.8 207.3L541.2 222.0L541.6 214.6L542.0 211.5L542.4 210.5L542.8 217.1L543.2 218.3L543.6 215.3L544.0 222.7L544.4 214.9L544.8 209.5L545.2 210.8L545.6 218.2L546.0 218.7L546.4 219.2L546.8 218.6L547.2 214.0L547.6 214.2L548.0 215.0L548.4 217.1L548.8 216.6L549.2 225.4L549.6 225.0L550.0 234.3L550.4 234.7L550.8 231.3L551.2 236.9L551.6 241.7L552.0 237.5L552.4 238.6L552.8 243.0L553.2 242.4L553.6 249.4L554.0 238.1L554.4 228.2L554.8 227.1L555.2 225.1L555.6 233.7L556.0 239.0L556.4 238.0L556.8 243.4L557.2 248.6L557.6 249.6L558.0 252.5L558.4 263.2L558.8 260.5L559.2 267.2L559.6 275.1L560.0 272.5L560.4 262.6L560.8 266.5L561.2 249.2L561.6 258.6L562.0 253.0L562.4 261.7L562.8 252.0L563.2 251.3L563.6 249.4L564.0 249.4L564.4 252.1L564.8 241.1L565.2 243.6L565.6 247.3L566.0 241.4L566.4 246.8L566.8 234.7L567.2 224.2L567.6 228.1L568.0 222.9L568.4 222.0L568.8 220.1L569.2 225.8L569.6 230.4L570.0 231.6L570.4 230.4L570.8 235.2L571.2 242.3L571.6 231.0L572.0 226.4L572.4 224.4L572.8 220.2L573.2 210.8L573.6 205.6L574.0 197.4L574.4 194.2L574.8 187.0L575.2 186.6L575.6 194.3L576.0 197.1L576.4 204.0L576.8 212.0L577.2 211.7L577.6 212.8L578.0 208.2L578.4 222.2L578.8 214.9L579.2 214.6L579.6 212.1L580.0 218.0L580.4 213.8L580.8 213.2L581.2 218.8L581.6 215.2L582.0 209.8L582.4 212.8L582.8 219.9L583.2 207.3L583.6 214.1L584.0 208.6L584.4 209.5L584.8 207.6L585.2 206.1L585.6 200.8L586.0 202.7L586.4 206.3L586.8 208.9L587.2 209.8L587.6 215.7L588.0 205.6L588.4 211.0L588.8 201.7L589.2 195.0L589.6 194.2L590.0 199.4L590.4 210.3L590.8 216.9L591.2 223.0L591.6 215.8L592.0 219.0L592.4 225.3L592.8 219.4L593.2 217.0L593.6 221.1L594.0 217.8L594.4 221.4L594.8 221.7L595.2 218.8L595.6 216.7L596.0 218.6L596.4 208.1L596.8 207.4L597.2 208.3L597.6 203.6L598.0 208.0L598.4 204.6L598.8 203.9L599.2 214.0L599.6 222.7L600.0 220.0L600.4 223.4L600.8 236.7L601.2 240.8L601.6 244.7L602.0 242.6L602.4 247.9L602.8 255.9L603.2 259.5L603.6 260.1L604.0 255.0L604.4 250.3L604.8 239.6L605.2 238.1L605.6 233.2L606.0 237.9L606.4 228.3L606.8 230.3L607.2 232.8L607.6 233.1L608.0 233.3L608.4 227.9L608.8 228.9L609.2 224.8L609.6 224.9L610.0 228.7L610.4 229.7L610.8 229.1L611.2 235.3L611.6 237.4L612.0 240.4L612.4 238.5L612.8 230.9L613.2 233.1L613.6 231.2L614.0 232.0L614.4 224.4L614.8 221.4L615.2 223.5L615.6 216.9L616.0 213.0L616.4 203.3L616.8 193.7L617.2 189.9L617.6 182.7L618.0 176.3L618.4 171.4L618.8 171.2L619.2 176.7L619.6 182.2L620.0 185.8L620.4 187.3L620.8 192.5L621.2 202.7L621.6 218.9L622.0 240.0L622.4 259.6L622.8 280.2L623.2 261.2L623.6 257.0L624.0 245.8L624.4 233.4L624.8 237.5L625.2 229.4L625.6 220.0L626.0 221.5L626.4 220.6L626.8 220.0L627.2 218.0L627.6 219.6L628.0 210.9L628.4 210.2L628.8 203.6L629.2 200.8L629.6 209.9L630.0 202.5L630.4 202.3L630.8 210.0L631.2 213.5L631.6 202.0L632.0 204.9L632.4 201.1L632.8 202.1L633.2 200.9L633.6 199.7L634.0 200.6L634.4 205.5L634.8 206.9L635.2 195.4L635.6 181.4L636.0 148.3L636.4 127.5L636.8 104.4L637.2 109.0L637.6 119.3L638.0 134.4L638.4 137.9L638.8 152.0L639.2 149.8L639.6 154.0L640.0 163.8L640.4 168.7L640.8 165.2L641.2 168.7L641.6 172.5L642.0 175.3L642.4 173.3L642.8 178.5L643.2 183.1L643.6 179.5L644.0 180.5L644.4 180.3L644.8 171.4L645.2 169.7L645.6 156.7L646.0 168.3L646.4 177.4L646.8 179.7L647.2 186.0L647.6 189.8L648.0 197.5L648.4 199.9L648.8 206.8L649.2 208.8L649.6 216.3L650.0 217.0L650.4 228.8L650.8 228.4L651.2 230.0L651.6 230.6L652.0 229.5L652.4 239.2L652.8 233.8L653.2 246.0L653.6 247.8L654.0 246.0L654.4 261.3L654.8 265.7L655.2 280.8" fill="none" stroke="#0A2144" stroke-width="2.2" stroke-linejoin="round"/><rect x="33.5" y="35.5" width="623.0" height="428.0" fill="none" stroke="#2b2b2b" stroke-width="1"/><line x1="93.6" y1="463.5" x2="93.6" y2="468.0" stroke="#2b2b2b" stroke-width="1"/><text transform="translate(93.6 481.0) scale(0.95 1)" text-anchor="middle" class="ax">1985</text><line x1="168.6" y1="463.5" x2="168.6" y2="468.0" stroke="#2b2b2b" stroke-width="1"/><text transform="translate(168.6 481.0) scale(0.95 1)" text-anchor="middle" class="ax">1990</text><line x1="243.6" y1="463.5" x2="243.6" y2="468.0" stroke="#2b2b2b" stroke-width="1"/><text transform="translate(243.6 481.0) scale(0.95 1)" text-anchor="middle" class="ax">1995</text><line x1="318.6" y1="463.5" x2="318.6" y2="468.0" stroke="#2b2b2b" stroke-width="1"/><text transform="translate(318.6 481.0) scale(0.95 1)" text-anchor="middle" class="ax">2000</text><line x1="393.6" y1="463.5" x2="393.6" y2="468.0" stroke="#2b2b2b" stroke-width="1"/><text transform="translate(393.6 481.0) scale(0.95 1)" text-anchor="middle" class="ax">2005</text><line x1="468.6" y1="463.5" x2="468.6" y2="468.0" stroke="#2b2b2b" stroke-width="1"/><text transform="translate(468.6 481.0) scale(0.95 1)" text-anchor="middle" class="ax">2010</text><line x1="543.6" y1="463.5" x2="543.6" y2="468.0" stroke="#2b2b2b" stroke-width="1"/><text transform="translate(543.6 481.0) scale(0.95 1)" text-anchor="middle" class="ax">2015</text><line x1="618.6" y1="463.5" x2="618.6" y2="468.0" stroke="#2b2b2b" stroke-width="1"/><text transform="translate(618.6 481.0) scale(0.95 1)" text-anchor="middle" class="ax">2020</text><text transform="translate(28.8 40.2) scale(0.95 1)" text-anchor="end" class="ax">100</text><text transform="translate(660.7 40.2) scale(0.95 1)" text-anchor="start" class="ax">100</text><text transform="translate(28.8 147.2) scale(0.95 1)" text-anchor="end" class="ax">50</text><text transform="translate(660.7 147.2) scale(0.95 1)" text-anchor="start" class="ax">50</text><text transform="translate(28.8 254.2) scale(0.95 1)" text-anchor="end" class="ax">0</text><text transform="translate(660.7 254.2) scale(0.95 1)" text-anchor="start" class="ax">0</text><text transform="translate(28.8 361.2) scale(0.95 1)" text-anchor="end" class="ax">-50</text><text transform="translate(660.7 361.2) scale(0.95 1)" text-anchor="start" class="ax">-50</text><text transform="translate(28.8 468.2) scale(0.95 1)" text-anchor="end" class="ax">-100</text><text transform="translate(660.7 468.2) scale(0.95 1)" text-anchor="start" class="ax">-100</text><text transform="translate(33.4 20.8) scale(0.977 1)" text-anchor="start" class="ti">US Market Annual Return Decomposition</text><line x1="91.5" y1="494.7" x2="117" y2="494.7" stroke="#1F3A63" stroke-width="1.6"/><text transform="translate(122.1 499.2) scale(0.978 1)" text-anchor="start" class="lg">Total Return</text><path d="M201.1 499.3V490.6H202.7V494.7H204.1V492.2H205.6V490.6H206.8V494.7H208.5V492.2H210.0V490.6H211.2V494.7H212.8V492.2H214.3V490.6H215.5V494.7H217.2V492.2H218.7V490.6H219.9V494.7H221.5V492.2H223.0V490.6H224.2V494.7H225.9V491.8H227.0V499.3Z" fill="#FFD966"/><text transform="translate(232.1 499.2) scale(0.978 1)" text-anchor="start" class="lg">Valuation</text><path d="M299.1 499.3V490.6H300.7V494.7H302.1V492.2H303.6V490.6H304.8V494.7H306.5V492.2H308.0V490.6H309.2V494.7H310.8V492.2H312.3V490.6H313.5V494.7H315.2V492.2H316.7V490.6H317.9V494.7H319.5V492.2H321.0V490.6H322.2V494.7H323.9V491.8H325.0V499.3Z" fill="#C8C8C8"/><text transform="translate(328.8 499.2) scale(0.978 1)" text-anchor="start" class="lg">Dividends</text><path d="M400.9 499.3V490.6H402.5V494.7H403.9V492.2H405.4V490.6H406.6V494.7H408.3V492.2H409.8V490.6H411.0V494.7H412.6V492.2H414.1V490.6H415.3V494.7H417.0V492.2H418.5V490.6H419.7V494.7H421.3V492.2H422.8V490.6H424.0V494.7H425.7V491.8H426.8V499.3Z" fill="#9DC3E6"/><text transform="translate(431.0 499.2) scale(0.978 1)" text-anchor="start" class="lg">Earnings</text><rect x="497" y="491" width="26" height="8" fill="#DEDEDE"/><text transform="translate(526.7 499.2) scale(0.978 1)" text-anchor="start" class="lg">Recession</text><text transform="translate(3.1 513.2) scale(0.93 1)" text-anchor="start" class="src">Source: Refinitiv Datastream, Drummond Capital Partners</text></svg>
</body></html>
